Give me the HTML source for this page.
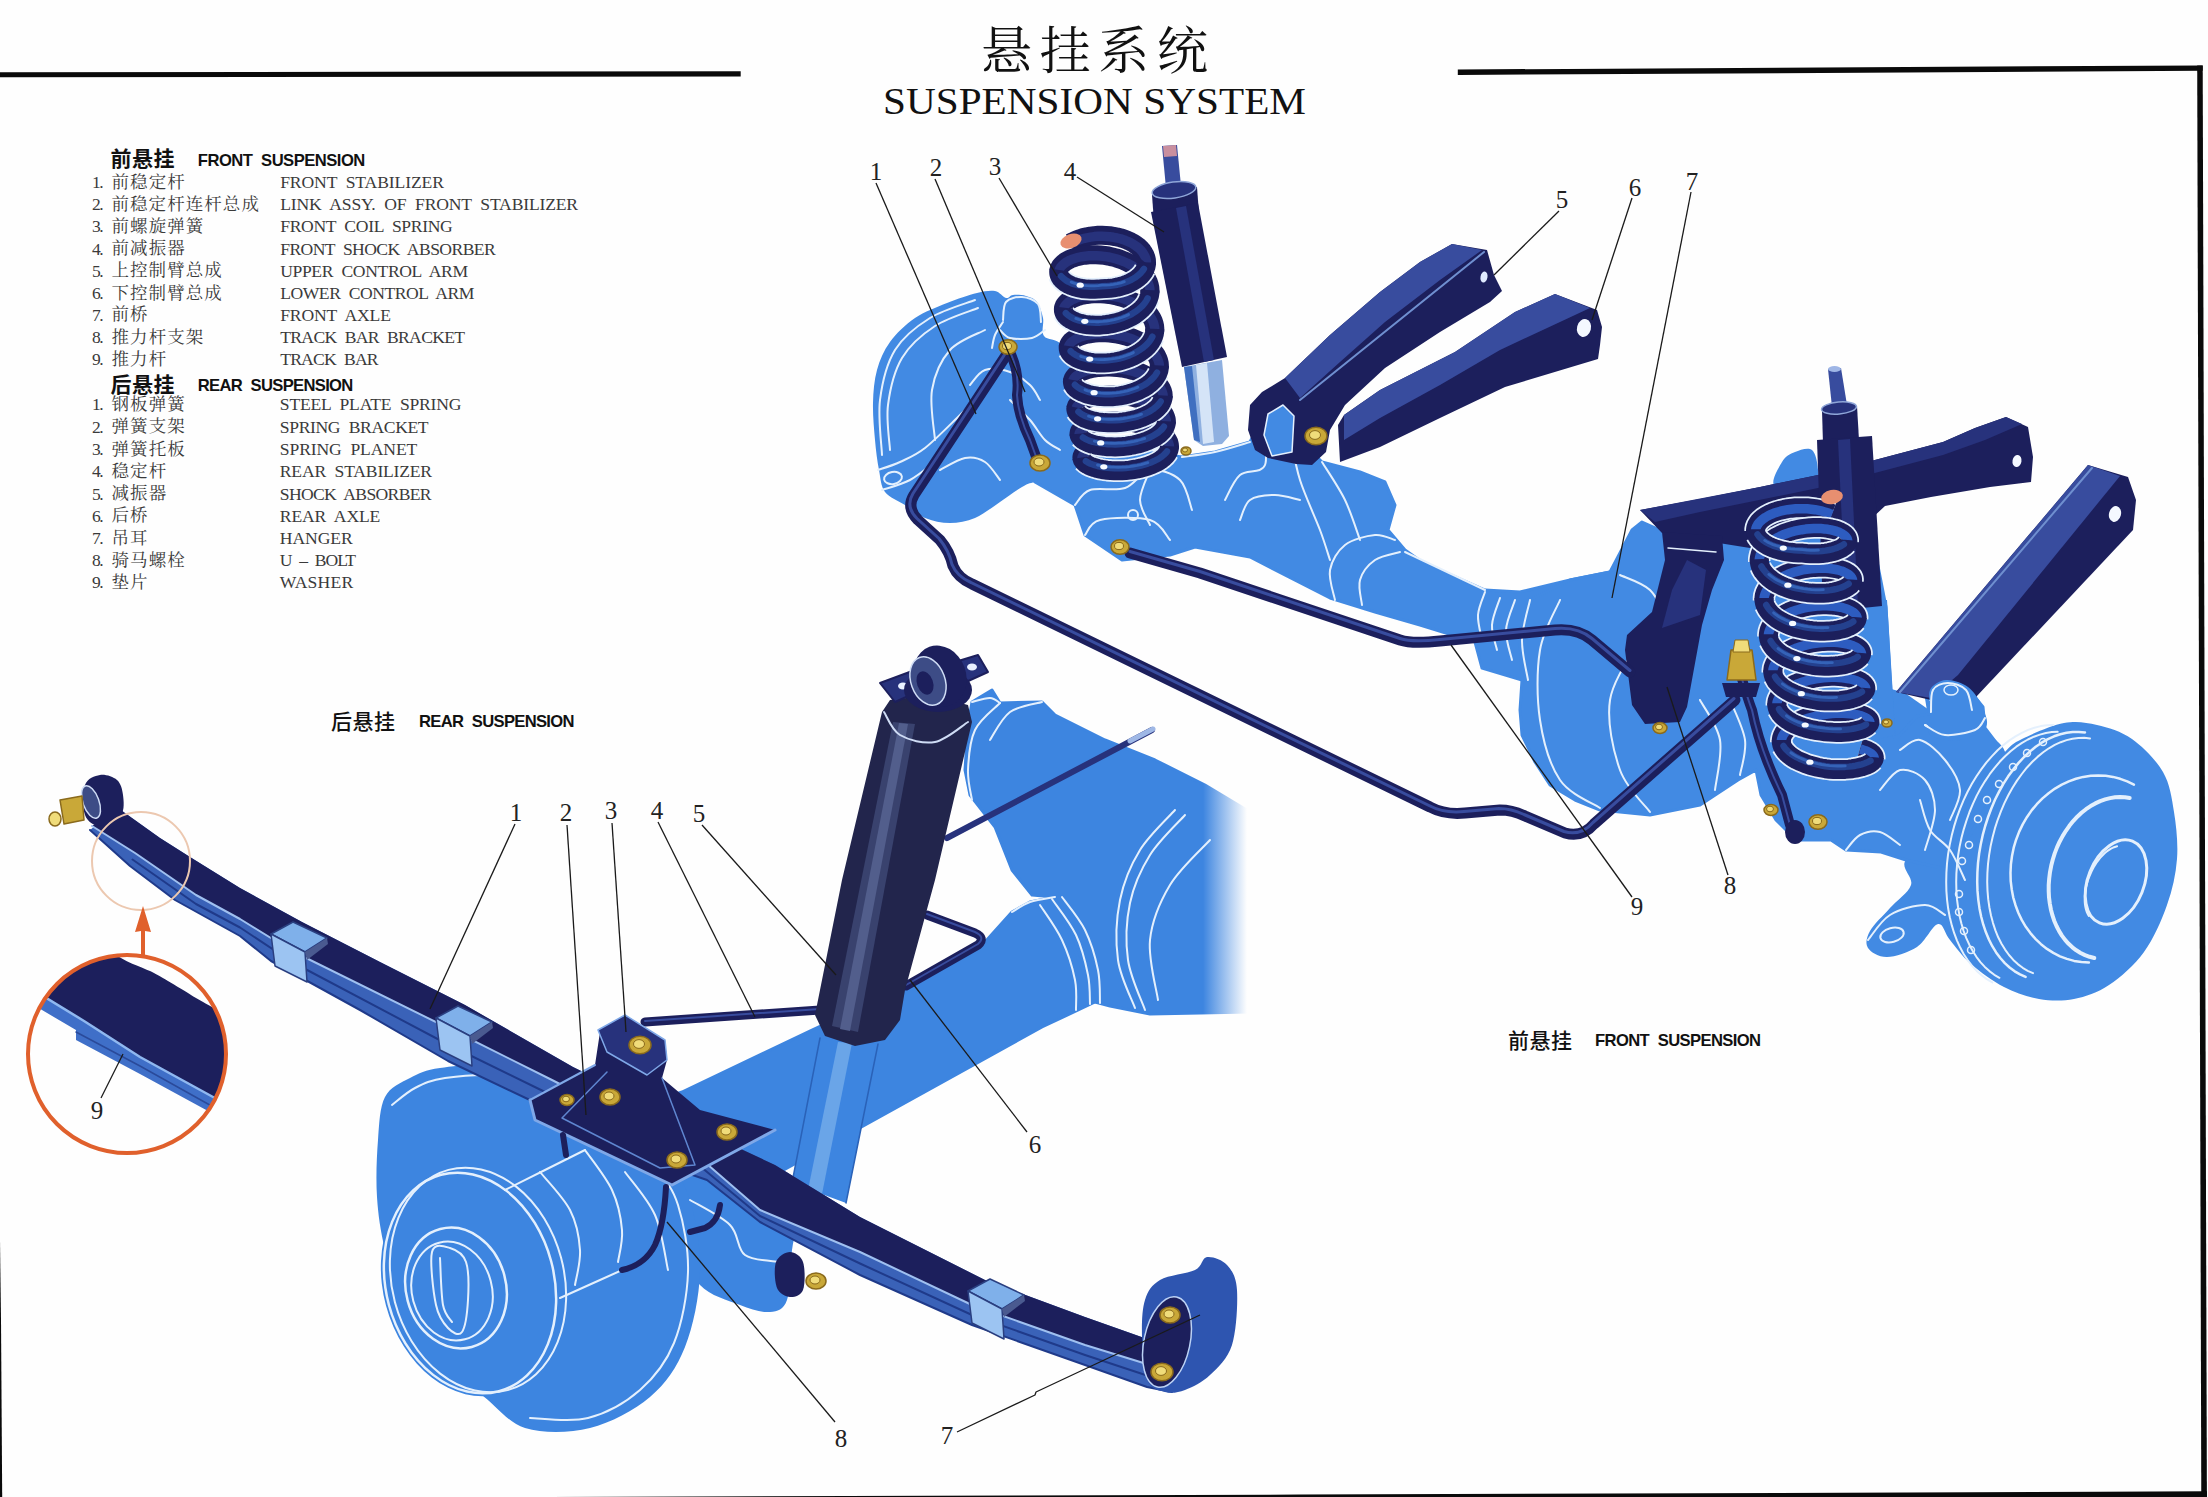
<!DOCTYPE html>
<html lang="zh"><head><meta charset="utf-8"><title>悬挂系统 SUSPENSION SYSTEM</title>
<style>
html,body{margin:0;padding:0;background:#fff}
body{width:2208px;height:1497px;overflow:hidden;position:relative}
svg{position:absolute;left:0;top:0;display:block}
text{white-space:pre}
</style></head><body>
<svg width="2208" height="1497" viewBox="0 0 2208 1497">
<rect width="2208" height="1497" fill="#fefefe"/>
<defs><linearGradient id="fadeR" x1="0" x2="1" y1="0" y2="0"><stop offset="0" stop-color="#fefefe" stop-opacity="0"/><stop offset="0.8" stop-color="#fefefe" stop-opacity="1"/><stop offset="1" stop-color="#fefefe" stop-opacity="1"/></linearGradient><clipPath id="detc"><circle cx="127" cy="1054" r="99"/></clipPath></defs>
<polygon points="972,702 992,690 1000,703 1042,702 1055,715 1105,740 1155,760 1205,785 1250,812 1250,1012 1150,1014 1110,1006 1095,1002 1060,1000 1055,897 1032,895 1012,870 995,827 970,795 965,770 968,725" fill="#3d85e0" stroke="#3d85e0" stroke-width="3" stroke-linejoin="round"/>
<polygon points="660,1100 682,1092 812,1030 910,985 985,942 1012,912 1030,902 1055,897 1075,950 1095,1002 1042,1027 865,1125 780,1172 700,1205 660,1180" fill="#3d85e0" stroke="#3d85e0" stroke-width="3" stroke-linejoin="round"/>
<path d="M675,1185C678.3,1174.2 682.5,1177.2 700,1175C717.5,1172.8 763.3,1167.8 780,1172C796.7,1176.2 798,1187 800,1200C802,1213 794.2,1233.3 792,1250C789.8,1266.7 790.7,1289.7 787,1300C783.3,1310.3 777.8,1311.2 770,1312C762.2,1312.8 751.7,1309.5 740,1305C728.3,1300.5 710,1295.8 700,1285C690,1274.2 684.2,1256.7 680,1240C675.8,1223.3 671.7,1195.8 675,1185Z" fill="#3d85e0"/>
<path d="M385,1097C390.3,1086.7 400.8,1082.8 410,1078C419.2,1073.2 425,1070 440,1068C455,1066 480,1063.2 500,1066C520,1068.8 540,1076 560,1085C580,1094 602.5,1107.5 620,1120C637.5,1132.5 653.3,1146.7 665,1160C676.7,1173.3 684.2,1181.3 690,1200C695.8,1218.7 700.8,1247.5 700,1272C699.2,1296.5 693.3,1326.2 685,1347C676.7,1367.8 665.8,1383.5 650,1397C634.2,1410.5 610.8,1422.8 590,1428C569.2,1433.2 543.3,1433.7 525,1428C506.7,1422.3 494.2,1402.8 480,1394C465.8,1385.2 452.5,1387.3 440,1375C427.5,1362.7 414.2,1340.8 405,1320C395.8,1299.2 389.7,1270.5 385,1250C380.3,1229.5 378.2,1215.3 377,1197C375.8,1178.7 376.7,1156.7 378,1140C379.3,1123.3 379.7,1107.3 385,1097Z" fill="#3d85e0"/>
<ellipse cx="470" cy="1283" rx="87" ry="115" fill="#3d85e0" transform="rotate(-15 470 1283)"/>
<rect x="1203" y="770" width="55" height="250" fill="url(#fadeR)"/>
<polygon points="820,1038 878,1044 846,1203 792,1183" fill="#3d85e0"/>
<polygon points="838,1042 852,1043 822,1194 808,1190" fill="#6aa5e8"/>
<polyline points="820,1038 792,1183" fill="none" stroke="#2a62b8" stroke-width="1.5" stroke-linecap="round" stroke-linejoin="round"/>
<polyline points="878,1044 846,1203" fill="none" stroke="#2a62b8" stroke-width="1.5" stroke-linecap="round" stroke-linejoin="round"/>
<path d="M392,1105C395.8,1102.2 406.2,1092.5 415,1088C423.8,1083.5 430.8,1080 445,1078C459.2,1076 481.7,1073.3 500,1076C518.3,1078.7 536.3,1085.3 555,1094C573.7,1102.7 595.3,1115.7 612,1128C628.7,1140.3 644,1155.2 655,1168C666,1180.8 672.5,1187.7 678,1205C683.5,1222.3 688.7,1249 688,1272C687.3,1295 682,1323.3 674,1343C666,1362.7 654.3,1377.5 640,1390C625.7,1402.5 606.3,1413.3 588,1418C569.7,1422.7 539.7,1418 530,1418" fill="none" stroke="#e4f0fd" stroke-width="2" stroke-linecap="round" stroke-linejoin="round"/>
<ellipse cx="470" cy="1283" rx="84" ry="112" fill="none" stroke="#e4f0fd" stroke-width="2.5" transform="rotate(-15 470 1283)"/>
<ellipse cx="478" cy="1280" rx="86" ry="114" fill="none" stroke="#e4f0fd" stroke-width="2" transform="rotate(-15 478 1280)"/>
<ellipse cx="456" cy="1288" rx="50" ry="61" fill="none" stroke="#e4f0fd" stroke-width="2.5" transform="rotate(-15 456 1288)"/>
<ellipse cx="452" cy="1291" rx="40" ry="50" fill="none" stroke="#e4f0fd" stroke-width="2" transform="rotate(-15 452 1291)"/>
<path d="M432,1252C429.7,1261.5 433.3,1292.3 436,1305C438.7,1317.7 443.7,1323.5 448,1328C452.3,1332.5 458.7,1336.7 462,1332C465.3,1327.3 467.3,1311.7 468,1300C468.7,1288.3 469,1270.7 466,1262C463,1253.3 455.7,1249.7 450,1248C444.3,1246.3 434.3,1242.5 432,1252Z" fill="none" stroke="#e4f0fd" stroke-width="2" stroke-linecap="round" stroke-linejoin="round"/>
<path d="M440,1258C440.5,1265.8 441,1294.3 443,1305C445,1315.7 450.5,1319.2 452,1322" fill="none" stroke="#e4f0fd" stroke-width="2" stroke-linecap="round" stroke-linejoin="round"/>
<path d="M505,1190C518.3,1183.3 571.7,1156.7 585,1150" fill="none" stroke="#e4f0fd" stroke-width="2" stroke-linecap="round" stroke-linejoin="round"/>
<path d="M560,1298C573.3,1292 626.7,1268 640,1262" fill="none" stroke="#e4f0fd" stroke-width="2" stroke-linecap="round" stroke-linejoin="round"/>
<path d="M585,1150C589.5,1156.7 605.8,1176.7 612,1190C618.2,1203.3 621,1218 622,1230C623,1242 618.7,1256.7 618,1262" fill="none" stroke="#e4f0fd" stroke-width="2" stroke-linecap="round" stroke-linejoin="round"/>
<path d="M540,1172C545,1178.3 563.3,1197 570,1210C576.7,1223 579.2,1237.5 580,1250C580.8,1262.5 575.8,1279.2 575,1285" fill="none" stroke="#e4f0fd" stroke-width="2" stroke-linecap="round" stroke-linejoin="round"/>
<path d="M625,1172C630,1179.2 647.8,1198.7 655,1215C662.2,1231.3 665.8,1260.8 668,1270" fill="none" stroke="#e4f0fd" stroke-width="2" stroke-linecap="round" stroke-linejoin="round"/>
<path d="M1062,897C1065.8,902.5 1079,917.8 1085,930C1091,942.2 1095.5,957.8 1098,970C1100.5,982.2 1099.7,997.5 1100,1003" fill="none" stroke="#e4f0fd" stroke-width="2" stroke-linecap="round" stroke-linejoin="round"/>
<path d="M1052,899C1056,905 1070,922.3 1076,935C1082,947.7 1085.7,963.5 1088,975C1090.3,986.5 1089.7,999.2 1090,1004" fill="none" stroke="#e4f0fd" stroke-width="2" stroke-linecap="round" stroke-linejoin="round"/>
<path d="M1040,905C1043.7,910.8 1056.2,927.5 1062,940C1067.8,952.5 1072.7,968.3 1075,980C1077.3,991.7 1075.8,1005 1076,1010" fill="none" stroke="#e4f0fd" stroke-width="2" stroke-linecap="round" stroke-linejoin="round"/>
<path d="M1012,912C1015,910.3 1022.8,904.5 1030,902C1037.2,899.5 1050.8,897.8 1055,897" fill="none" stroke="#e4f0fd" stroke-width="2" stroke-linecap="round" stroke-linejoin="round"/>
<path d="M1175,810C1169.2,816.7 1149.2,835 1140,850C1130.8,865 1123.7,881.7 1120,900C1116.3,918.3 1115.5,942 1118,960C1120.5,978 1132.2,1000 1135,1008" fill="none" stroke="#e4f0fd" stroke-width="2" stroke-linecap="round" stroke-linejoin="round"/>
<path d="M1185,815C1179.2,821.7 1159.2,840.3 1150,855C1140.8,869.7 1133.7,885.5 1130,903C1126.3,920.5 1125.5,942.2 1128,960C1130.5,977.8 1142.2,1001.7 1145,1010" fill="none" stroke="#e4f0fd" stroke-width="2" stroke-linecap="round" stroke-linejoin="round"/>
<path d="M1210,840C1203.3,847.5 1180,868.3 1170,885C1160,901.7 1152,920.8 1150,940C1148,959.2 1156.7,990 1158,1000" fill="none" stroke="#e4f0fd" stroke-width="2" stroke-linecap="round" stroke-linejoin="round"/>
<path d="M1000,703C995.8,707.5 980.3,718.8 975,730C969.7,741.2 968.5,758.3 968,770C967.5,781.7 971.3,795 972,800" fill="none" stroke="#e4f0fd" stroke-width="2" stroke-linecap="round" stroke-linejoin="round"/>
<path d="M1042,702C1036.7,703.7 1018.7,705.7 1010,712C1001.3,718.3 993.3,735.3 990,740" fill="none" stroke="#e4f0fd" stroke-width="2" stroke-linecap="round" stroke-linejoin="round"/>
<path d="M972,702C975,701.3 985.3,697.8 990,698C994.7,698.2 998.3,702.2 1000,703" fill="none" stroke="#e4f0fd" stroke-width="2" stroke-linecap="round" stroke-linejoin="round"/>
<path d="M690,1200C696.7,1204.2 720.8,1215.8 730,1225C739.2,1234.2 736.7,1248.8 745,1255C753.3,1261.2 774.2,1260.8 780,1262" fill="none" stroke="#e4f0fd" stroke-width="2" stroke-linecap="round" stroke-linejoin="round"/>
<polyline points="947,838 1152,730" fill="none" stroke="#27327c" stroke-width="6" stroke-linecap="round" stroke-linejoin="round"/>
<polyline points="1130,741 1153,729" fill="none" stroke="#9fb8e6" stroke-width="5" stroke-linecap="round" stroke-linejoin="round"/>
<polyline points="645,1022 820,1010" fill="none" stroke="#1c1f5c" stroke-width="9" stroke-linecap="round" stroke-linejoin="round"/>
<polyline points="645,1021 820,1009" fill="none" stroke="#384c9e" stroke-width="2" stroke-linecap="round" stroke-linejoin="round"/>
<path d="M927,915 L975,933 Q986,938 978,945 L906,986" fill="none" stroke="#1c1f5c" stroke-width="9" stroke-linecap="round" stroke-linejoin="round"/>
<path d="M927,914 L975,932 Q986,937 978,944 L906,985" fill="none" stroke="#384c9e" stroke-width="2" stroke-linecap="round" stroke-linejoin="round"/>
<polygon points="882,712 890,700 930,695 968,705 972,722 935,880 905,990 900,1020 885,1040 855,1046 825,1036 815,1015 842,880" fill="#22254c"/>
<polygon points="893,722 915,724 858,1032 832,1026" fill="#39426e"/>
<polygon points="899,723 908,724 850,1031 840,1029" fill="#525e8c"/>
<path d="M884,712C886.7,715.8 891.5,730 900,735C908.5,740 923.7,744.2 935,742C946.3,739.8 962.5,725.3 968,722" fill="none" stroke="#cfdcf5" stroke-width="2" stroke-linecap="round" stroke-linejoin="round"/>
<polygon points="880,683 915,670 922,690 895,702" fill="#27327c" stroke="#1c1f5c" stroke-width="2" stroke-linejoin="round"/>
<polygon points="955,662 978,655 988,672 966,682" fill="#27327c" stroke="#1c1f5c" stroke-width="2" stroke-linejoin="round"/>
<ellipse cx="972" cy="667" rx="5" ry="3.5" fill="#e8f0ff"/>
<ellipse cx="903" cy="686" rx="5" ry="3.5" fill="#e8f0ff"/>
<ellipse cx="938" cy="690" rx="34" ry="22" fill="#1c1f5c"/>
<ellipse cx="940" cy="676" rx="26" ry="31" fill="#1c1f5c" transform="rotate(-20 940 676)"/>
<ellipse cx="928" cy="681" rx="17" ry="25" fill="#3d4c86" stroke="#cfdcf5" stroke-width="1.5" transform="rotate(-20 928 681)"/>
<ellipse cx="925" cy="683" rx="8" ry="12" fill="#1c1f5c" transform="rotate(-20 925 683)"/>
<polygon points="118,808 160,838 190,857 240,888 302,922 380,962 465,1005 573,1067 640,1100 700,1130 775,1165 860,1217 985,1280 1085,1317 1150,1340 1172,1392 1147,1387 1085,1365 972,1325 860,1275 760,1222 707,1180 620,1150 532,1101 448,1061 360,1010 271,961 240,936 175,900 130,866 90,830" fill="#3a62b8"/>
<polygon points="118,808 160,838 190,857 240,888 302,922 380,962 465,1005 573,1067 640,1100 700,1130 775,1165 860,1217 985,1280 1085,1317 1150,1340 1150,1365 1085,1345 972,1305 860,1252 760,1210 700,1158 640,1125 552,1080 448,1028 292,951 240,919 196,895 135,853 92,826" fill="#1c1f5c"/>
<polyline points="92,826 135,853 196,895 240,919 292,951 448,1028 552,1080 640,1125 700,1158 760,1210 860,1252 972,1305 1085,1345 1150,1365" fill="none" stroke="#9fc0f0" stroke-width="2" stroke-linecap="round" stroke-linejoin="round"/>
<polyline points="132.5,859.5 196,904 240,927.5 292,962 448,1044.5 542,1090.5 630,1137.5 703.5,1169 760,1216 860,1263.5 972,1315 1085,1355 1148.5,1376" fill="none" stroke="#1f3a8a" stroke-width="2" stroke-linecap="round" stroke-linejoin="round"/>
<polyline points="90,830 130,866 175,900 240,936 271,961 360,1010 448,1061 532,1101 620,1150 707,1180 760,1222 860,1275 972,1325 1085,1365 1147,1387 1172,1392" fill="none" stroke="#1f3a8a" stroke-width="2" stroke-linecap="round" stroke-linejoin="round"/>
<polygon points="271,934 293,922 327,938 305,952" fill="#7fb0ea" stroke="#2a3f80" stroke-width="1.5" stroke-linejoin="round"/>
<polygon points="271,934 305,952 307,982 275,966" fill="#9cc4f2" stroke="#2a3f80" stroke-width="1.5" stroke-linejoin="round"/>
<polygon points="305,952 327,938 328,944 307,960" fill="#4a5a90"/>
<polygon points="436,1018 458,1006 492,1022 470,1036" fill="#7fb0ea" stroke="#2a3f80" stroke-width="1.5" stroke-linejoin="round"/>
<polygon points="436,1018 470,1036 472,1066 440,1050" fill="#9cc4f2" stroke="#2a3f80" stroke-width="1.5" stroke-linejoin="round"/>
<polygon points="470,1036 492,1022 493,1028 472,1044" fill="#4a5a90"/>
<polygon points="968,1291 990,1279 1024,1295 1002,1309" fill="#7fb0ea" stroke="#2a3f80" stroke-width="1.5" stroke-linejoin="round"/>
<polygon points="968,1291 1002,1309 1004,1339 972,1323" fill="#9cc4f2" stroke="#2a3f80" stroke-width="1.5" stroke-linejoin="round"/>
<polygon points="1002,1309 1024,1295 1025,1301 1004,1317" fill="#4a5a90"/>
<path d="M85,785C87.5,778.3 94.7,775.8 100,775C105.3,774.2 113.2,776.7 117,780C120.8,783.3 122.3,789.2 123,795C123.7,800.8 124.8,809.8 121,815C117.2,820.2 106,826 100,826C94,826 87.5,821.8 85,815C82.5,808.2 82.5,791.7 85,785Z" fill="#1c1f5c"/>
<ellipse cx="91" cy="802" rx="8" ry="17" fill="#3d4c86" stroke="#cfdcf5" stroke-width="1.5" transform="rotate(-20 91 802)"/>
<polygon points="60,800 82,796 84,820 64,824" fill="#c9a838" stroke="#8a6a1c" stroke-width="1.5" stroke-linejoin="round"/>
<ellipse cx="55" cy="819" rx="6" ry="7" fill="#f0dc7a" stroke="#8a6a1c" stroke-width="1.5"/>
<path d="M1145,1300C1148,1290.5 1151.7,1285 1160,1280C1168.3,1275 1187.2,1273.8 1195,1270C1202.8,1266.2 1201.7,1257.8 1207,1257C1212.3,1256.2 1222,1259.5 1227,1265C1232,1270.5 1236.2,1276.7 1237,1290C1237.8,1303.3 1236.5,1330.8 1232,1345C1227.5,1359.2 1217.8,1367.5 1210,1375C1202.2,1382.5 1192.5,1387.2 1185,1390C1177.5,1392.8 1171.3,1393.7 1165,1392C1158.7,1390.3 1150.8,1389.2 1147,1380C1143.2,1370.8 1142.3,1350.3 1142,1337C1141.7,1323.7 1142,1309.5 1145,1300Z" fill="#2e55b0"/>
<ellipse cx="1167" cy="1342" rx="23" ry="46" fill="#1c1f5c" stroke="#bcd2f5" stroke-width="1.5" transform="rotate(12 1167 1342)"/>
<ellipse cx="1170" cy="1315" rx="10" ry="8" fill="#c9a838" stroke="#8a6a1c" stroke-width="1.5"/><ellipse cx="1169" cy="1314" rx="5" ry="4" fill="#f0dc7a" stroke="#8a6a1c" stroke-width="1"/>
<ellipse cx="1162" cy="1372" rx="11" ry="8.8" fill="#c9a838" stroke="#8a6a1c" stroke-width="1.5"/><ellipse cx="1161" cy="1371" rx="5.5" ry="4.4" fill="#f0dc7a" stroke="#8a6a1c" stroke-width="1"/>
<polygon points="530,1100 595,1065 600,1032 625,1015 665,1040 667,1060 662,1078 700,1110 775,1130 672,1185 535,1120" fill="#1c1f5c"/>
<polyline points="530,1100 535,1120 672,1185 775,1130" fill="none" stroke="#7fa8e8" stroke-width="3" stroke-linecap="round" stroke-linejoin="round"/>
<polyline points="530,1100 595,1065" fill="none" stroke="#7fa8e8" stroke-width="2" stroke-linecap="round" stroke-linejoin="round"/>
<polyline points="607,1072 562,1118 660,1168 695,1165 662,1078" fill="none" stroke="#5f86d0" stroke-width="1.5" stroke-linecap="round" stroke-linejoin="round"/>
<polygon points="598,1030 625,1015 665,1040 667,1060 647,1075 607,1052" fill="#27327c" stroke="#7fa8e8" stroke-width="1.5" stroke-linejoin="round"/>
<path d="M666,1187 Q664,1225 655,1245 Q645,1265 622,1270" fill="none" stroke="#1c1f5c" stroke-width="6" stroke-linecap="round" stroke-linejoin="round"/>
<path d="M720,1205 Q718,1222 705,1228 L690,1232" fill="none" stroke="#1c1f5c" stroke-width="6" stroke-linecap="round" stroke-linejoin="round"/>
<polyline points="563,1135 566,1155" fill="none" stroke="#1c1f5c" stroke-width="6" stroke-linecap="round" stroke-linejoin="round"/>
<path d="M776,1262C778.2,1256 785.5,1252 790,1252C794.5,1252 800.8,1255.7 803,1262C805.2,1268.3 805.2,1284.2 803,1290C800.8,1295.8 794.3,1297.3 790,1297C785.7,1296.7 779.3,1293.8 777,1288C774.7,1282.2 773.8,1268 776,1262Z" fill="#1c1f5c"/>
<ellipse cx="640" cy="1045" rx="11" ry="8.8" fill="#c9a838" stroke="#8a6a1c" stroke-width="1.5"/><ellipse cx="639" cy="1044" rx="5.5" ry="4.4" fill="#f0dc7a" stroke="#8a6a1c" stroke-width="1"/>
<ellipse cx="610" cy="1097" rx="10" ry="8" fill="#c9a838" stroke="#8a6a1c" stroke-width="1.5"/><ellipse cx="609" cy="1096" rx="5" ry="4" fill="#f0dc7a" stroke="#8a6a1c" stroke-width="1"/>
<ellipse cx="567" cy="1100" rx="7" ry="5.6" fill="#c9a838" stroke="#8a6a1c" stroke-width="1.5"/><ellipse cx="566" cy="1099" rx="3.5" ry="2.8" fill="#f0dc7a" stroke="#8a6a1c" stroke-width="1"/>
<ellipse cx="727" cy="1132" rx="10" ry="8" fill="#c9a838" stroke="#8a6a1c" stroke-width="1.5"/><ellipse cx="726" cy="1131" rx="5" ry="4" fill="#f0dc7a" stroke="#8a6a1c" stroke-width="1"/>
<ellipse cx="677" cy="1160" rx="10" ry="8" fill="#c9a838" stroke="#8a6a1c" stroke-width="1.5"/><ellipse cx="676" cy="1159" rx="5" ry="4" fill="#f0dc7a" stroke="#8a6a1c" stroke-width="1"/>
<ellipse cx="816" cy="1281" rx="10" ry="8" fill="#c9a838" stroke="#8a6a1c" stroke-width="1.5"/><ellipse cx="815" cy="1280" rx="5" ry="4" fill="#f0dc7a" stroke="#8a6a1c" stroke-width="1"/>
<circle cx="127" cy="1054" r="99" fill="#fefefe"/>
<g clip-path="url(#detc)">
<path d="M10,880C20.6,878 101.6,945.7 116,955C130.4,964.3 146,968.7 154,973C162,977.3 185.4,991.3 196,998C206.6,1004.7 253.6,1027.3 260,1040C266.4,1052.7 264.7,1119.3 260,1125C255.3,1130.7 225,1103.8 213,1097C201,1090.2 152.9,1064.6 140,1057C127.1,1049.4 97,1029.2 84,1021C71,1012.8 17.4,989.1 10,975C2.6,960.9 -0.6,882 10,880Z" fill="#1c1f5c"/>
<polygon points="30,988 84,1021 140,1057 213,1097 240,1112 238,1130 208,1111 140,1074 76,1040 76,1030 30,1003" fill="#3f6fc8"/>
<polyline points="30,988 84,1021 140,1057 213,1097 240,1112" fill="none" stroke="#8fb8f0" stroke-width="2.5" stroke-linecap="round" stroke-linejoin="round"/>
<polyline points="76,1032 140,1066 208,1104 238,1121" fill="none" stroke="#2a4a9a" stroke-width="1.5" stroke-linecap="round" stroke-linejoin="round"/>
</g>
<circle cx="127" cy="1054" r="99" fill="none" stroke="#e0602c" stroke-width="4"/>
<circle cx="141" cy="861" r="49" fill="none" stroke="#ecc8b0" stroke-width="2"/>
<polygon points="141,957 145,957 145,931 151,932 143,906 135,932 141,931" fill="#e0602c"/>
<polyline points="515,824 430,1009" fill="none" stroke="#1a1a1a" stroke-width="1.3" stroke-linecap="butt" stroke-linejoin="round"/>
<polyline points="567,825 586,1115" fill="none" stroke="#1a1a1a" stroke-width="1.3" stroke-linecap="butt" stroke-linejoin="round"/>
<polyline points="612,823 626,1032" fill="none" stroke="#1a1a1a" stroke-width="1.3" stroke-linecap="butt" stroke-linejoin="round"/>
<polyline points="658,822 755,1017" fill="none" stroke="#1a1a1a" stroke-width="1.3" stroke-linecap="butt" stroke-linejoin="round"/>
<polyline points="702,825 836,975" fill="none" stroke="#1a1a1a" stroke-width="1.3" stroke-linecap="butt" stroke-linejoin="round"/>
<polyline points="1027,1132 910,980" fill="none" stroke="#1a1a1a" stroke-width="1.3" stroke-linecap="butt" stroke-linejoin="round"/>
<polyline points="957,1432 1035,1395 1036,1392 1200,1315" fill="none" stroke="#1a1a1a" stroke-width="1.3" stroke-linecap="butt" stroke-linejoin="round"/>
<polyline points="835,1422 667,1222" fill="none" stroke="#1a1a1a" stroke-width="1.3" stroke-linecap="butt" stroke-linejoin="round"/>
<polyline points="101,1098 123,1054" fill="none" stroke="#1a1a1a" stroke-width="1.3" stroke-linecap="butt" stroke-linejoin="round"/>
<text x="516" y="821" font-size="25" font-family='"Liberation Serif",serif' fill="#222" text-anchor="middle">1</text>
<text x="566" y="821" font-size="25" font-family='"Liberation Serif",serif' fill="#222" text-anchor="middle">2</text>
<text x="611" y="819" font-size="25" font-family='"Liberation Serif",serif' fill="#222" text-anchor="middle">3</text>
<text x="657" y="819" font-size="25" font-family='"Liberation Serif",serif' fill="#222" text-anchor="middle">4</text>
<text x="699" y="822" font-size="25" font-family='"Liberation Serif",serif' fill="#222" text-anchor="middle">5</text>
<text x="1035" y="1153" font-size="25" font-family='"Liberation Serif",serif' fill="#222" text-anchor="middle">6</text>
<text x="947" y="1444" font-size="25" font-family='"Liberation Serif",serif' fill="#222" text-anchor="middle">7</text>
<text x="841" y="1447" font-size="25" font-family='"Liberation Serif",serif' fill="#222" text-anchor="middle">8</text>
<text x="97" y="1119" font-size="25" font-family='"Liberation Serif",serif' fill="#222" text-anchor="middle">9</text>
<path d="M873,403C873.3,391.3 874.2,380.2 877,370C879.8,359.8 883.7,350.7 890,342C896.3,333.3 905.5,324.5 915,318C924.5,311.5 936.7,307.2 947,303C957.3,298.8 969,295 977,293C985,291 990.2,290.2 995,291C999.8,291.8 1003,297.3 1006,298C1009,298.7 1009.7,295.3 1013,295C1016.3,294.7 1022,294.8 1026,296C1030,297.2 1034.2,298.3 1037,302C1039.8,305.7 1041.8,312.3 1043,318C1044.2,323.7 1040.8,331.5 1044,336C1047.2,340.5 1056,337.7 1062,345C1068,352.3 1075.3,364.2 1080,380C1084.7,395.8 1088.3,424.2 1090,440C1091.7,455.8 1095,468.7 1090,475C1085,481.3 1069.2,476.8 1060,478C1050.8,479.2 1041.3,480.5 1035,482C1028.7,483.5 1027.8,483.7 1022,487C1016.2,490.3 1007.8,496.8 1000,502C992.2,507.2 983.3,514.5 975,518C966.7,521.5 958.3,523 950,523C941.7,523 932.5,521 925,518C917.5,515 911.7,509.3 905,505C898.3,500.7 889.3,497.8 885,492C880.7,486.2 880.7,478.7 879,470C877.3,461.3 876,451.2 875,440C874,428.8 872.7,414.7 873,403Z" fill="#428ae3"/>
<polygon points="1035,482 1060,440 1182,457 1215,452 1250,442 1262,418 1272,408 1285,407 1292,432 1322,462 1360,472 1385,482 1395,505 1388,530 1405,550 1422,562 1485,590 1520,592 1570,580 1610,572 1640,600 1560,690 1522,680 1482,668 1475,642 1420,625 1375,612 1330,598 1250,557 1195,547 1170,555 1122,560 1085,535 1075,505" fill="#428ae3" stroke="#428ae3" stroke-width="3" stroke-linejoin="round"/>
<path d="M1906,860C1899.5,867.5 1913.7,877 1911,885C1908.3,893 1896.8,900.3 1890,908C1883.2,915.7 1873.7,924.3 1870,931C1866.3,937.7 1865.2,943.7 1868,948C1870.8,952.3 1878.8,957.2 1887,957C1895.2,956.8 1908.5,952.5 1917,947C1925.5,941.5 1932.5,925.2 1938,924C1943.5,922.8 1944.5,933.3 1950,940C1955.5,946.7 1962,956.2 1971,964C1980,971.8 1992.7,981.2 2004,987C2015.3,992.8 2027.3,997 2039,999C2050.7,1001 2062.3,1001.3 2074,999C2085.7,996.7 2097.3,992.8 2109,985C2120.7,977.2 2134.3,965.3 2144,952C2153.7,938.7 2161.5,920.5 2167,905C2172.5,889.5 2175.8,874.5 2177,859C2178.2,843.5 2176.3,826.5 2174,812C2171.7,797.5 2170,784.2 2163,772C2156,759.8 2143,746.8 2132,739C2121,731.2 2108.3,727.7 2097,725C2085.7,722.3 2076.5,720.7 2064,723C2051.5,725.3 2032,734 2022,739C2012,744 2011.8,744.5 2004,753C1996.2,761.5 1984,775.5 1975,790C1966,804.5 1961.5,828.3 1950,840C1938.5,851.7 1912.5,852.5 1906,860Z" fill="#428ae3"/>
<polygon points="1888,688 1905,693 1932,712 1905,742 1890,742" fill="#428ae3"/>
<path d="M1929,714C1930.5,708.2 1923.7,700.5 1926,695C1928.3,689.5 1936.3,682.5 1943,681C1949.7,679.5 1959.3,681.7 1966,686C1972.7,690.3 1979.8,700 1983,707C1986.2,714 1981.5,720.3 1985,728C1988.5,735.7 2008.2,747.7 2004,753C1999.8,758.3 1974.5,763.8 1960,760C1945.5,756.2 1922.2,737.7 1917,730C1911.8,722.3 1927.5,719.8 1929,714Z" fill="#428ae3"/>
<polygon points="1522,680 1520,710 1522,735 1535,762 1550,785 1575,800 1600,810 1650,815 1700,805 1738,780 1756,770 1761,795 1776,820 1796,840 1831,840 1846,850 1881,852 1906,860 1950,870 1990,800 2004,753 1985,728 1983,707 1966,686 1943,681 1926,695 1929,714 1917,716 1898,737 1894,737 1886,607 1870,525 1752,538 1700,534 1660,530 1642,522 1632,530 1610,572 1570,580 1530,600 1520,640" fill="#428ae3" stroke="#428ae3" stroke-width="3" stroke-linejoin="round"/>
<polygon points="1862,600 1887,600 1895,735 1876,740" fill="#428ae3"/>
<path d="M1775,487C1769.5,482 1778.7,467.8 1782,462C1785.3,456.2 1790,454 1795,452C1800,450 1808.2,447 1812,450C1815.8,453 1817.5,463 1818,470C1818.5,477 1822.2,489.2 1815,492C1807.8,494.8 1780.5,492 1775,487Z" fill="#428ae3"/>
<path d="M882,455C881.7,445.8 877.8,417.5 880,400C882.2,382.5 886.7,363.7 895,350C903.3,336.3 916.7,326.3 930,318C943.3,309.7 967.5,303 975,300" fill="none" stroke="#e4f0fd" stroke-width="2" stroke-linecap="round" stroke-linejoin="round"/>
<path d="M890,450C889.7,442.5 886,420.3 888,405C890,389.7 894.2,371.2 902,358C909.8,344.8 922.3,334.3 935,326C947.7,317.7 970.8,311 978,308" fill="none" stroke="#e4f0fd" stroke-width="2" stroke-linecap="round" stroke-linejoin="round"/>
<path d="M935,440C934.5,431.7 929.5,405 932,390C934.5,375 941.2,360 950,350C958.8,340 979.2,333.3 985,330" fill="none" stroke="#e4f0fd" stroke-width="2" stroke-linecap="round" stroke-linejoin="round"/>
<path d="M878,470C881.7,468.7 892.2,465.7 900,462C907.8,458.3 915,455.8 925,448C935,440.2 949.2,425.5 960,415C970.8,404.5 985,390 990,385" fill="none" stroke="#e4f0fd" stroke-width="2" stroke-linecap="round" stroke-linejoin="round"/>
<path d="M882,490C886.7,488.3 901.2,484.7 910,480C918.8,475.3 930.8,465 935,462" fill="none" stroke="#e4f0fd" stroke-width="2" stroke-linecap="round" stroke-linejoin="round"/>
<ellipse cx="893" cy="478" rx="9" ry="6" fill="none" stroke="#e4f0fd" stroke-width="2" transform="rotate(-10 893 478)"/>
<path d="M1003,320C1003.5,317 1002.8,305.8 1006,302C1009.2,298.2 1016.7,296.7 1022,297C1027.3,297.3 1034.8,299.8 1038,304C1041.2,308.2 1040.5,319 1041,322" fill="none" stroke="#e4f0fd" stroke-width="2" stroke-linecap="round" stroke-linejoin="round"/>
<path d="M1000,330C1001.7,331.3 1004.7,336.7 1010,338C1015.3,339.3 1026.2,339.3 1032,338C1037.8,336.7 1042.8,331.3 1045,330" fill="none" stroke="#e4f0fd" stroke-width="2" stroke-linecap="round" stroke-linejoin="round"/>
<path d="M992,348C992.5,345.8 993.2,339.3 995,335C996.8,330.7 1001.7,324.2 1003,322" fill="none" stroke="#e4f0fd" stroke-width="2" stroke-linecap="round" stroke-linejoin="round"/>
<path d="M970,385C972.5,382.5 978.3,372.2 985,370C991.7,367.8 1002.5,369.5 1010,372C1017.5,374.5 1025,380.3 1030,385C1035,389.7 1038.3,397.5 1040,400" fill="none" stroke="#e4f0fd" stroke-width="2" stroke-linecap="round" stroke-linejoin="round"/>
<path d="M1010,400C1013.3,403.3 1024.2,413.3 1030,420C1035.8,426.7 1040,435 1045,440C1050,445 1057.5,448.3 1060,450" fill="none" stroke="#e4f0fd" stroke-width="2" stroke-linecap="round" stroke-linejoin="round"/>
<path d="M940,470C944.2,468 957.5,459.3 965,458C972.5,456.7 979.2,458.3 985,462C990.8,465.7 997.5,477 1000,480" fill="none" stroke="#e4f0fd" stroke-width="2" stroke-linecap="round" stroke-linejoin="round"/>
<path d="M1075,505C1077.5,502.5 1081.7,492.8 1090,490C1098.3,487.2 1115,491.3 1125,488C1135,484.7 1140.8,471.3 1150,470C1159.2,468.7 1173,473.3 1180,480C1187,486.7 1190,505 1192,510" fill="none" stroke="#e4f0fd" stroke-width="2" stroke-linecap="round" stroke-linejoin="round"/>
<path d="M1085,535C1087.5,532.5 1089.2,522.5 1100,520C1110.8,517.5 1138.3,516.7 1150,520C1161.7,523.3 1166.7,536.7 1170,540" fill="none" stroke="#e4f0fd" stroke-width="2" stroke-linecap="round" stroke-linejoin="round"/>
<path d="M1150,470C1148.3,475 1140,490.8 1140,500C1140,509.2 1148.3,520.8 1150,525" fill="none" stroke="#e4f0fd" stroke-width="2" stroke-linecap="round" stroke-linejoin="round"/>
<ellipse cx="1133" cy="515" rx="5" ry="5" fill="none" stroke="#e4f0fd" stroke-width="2"/>
<path d="M1182,457C1187.5,456.2 1203.7,454.5 1215,452C1226.3,449.5 1244.2,443.7 1250,442" fill="none" stroke="#e4f0fd" stroke-width="2" stroke-linecap="round" stroke-linejoin="round"/>
<path d="M1225,500C1227.5,495.8 1233.3,480.8 1240,475C1246.7,469.2 1261.3,474.2 1265,465C1268.7,455.8 1262.5,427.5 1262,420" fill="none" stroke="#e4f0fd" stroke-width="2" stroke-linecap="round" stroke-linejoin="round"/>
<path d="M1290,435C1291.7,442.5 1295,464.2 1300,480C1305,495.8 1315,516.7 1320,530C1325,543.3 1328.3,555 1330,560" fill="none" stroke="#e4f0fd" stroke-width="2" stroke-linecap="round" stroke-linejoin="round"/>
<path d="M1322,462C1325.8,468.3 1338.7,487 1345,500C1351.3,513 1357.5,533.3 1360,540" fill="none" stroke="#e4f0fd" stroke-width="2" stroke-linecap="round" stroke-linejoin="round"/>
<path d="M1240,520C1241.7,516.7 1244.2,504.2 1250,500C1255.8,495.8 1266.7,495 1275,495C1283.3,495 1295.8,499.2 1300,500" fill="none" stroke="#e4f0fd" stroke-width="2" stroke-linecap="round" stroke-linejoin="round"/>
<path d="M1335,600C1334.2,595 1328.3,579.2 1330,570C1331.7,560.8 1337.5,550.8 1345,545C1352.5,539.2 1366.7,535.8 1375,535C1383.3,534.2 1391.7,539.2 1395,540" fill="none" stroke="#e4f0fd" stroke-width="2" stroke-linecap="round" stroke-linejoin="round"/>
<path d="M1362,605C1361.7,600.8 1357.8,587.5 1360,580C1362.2,572.5 1368.3,564.7 1375,560C1381.7,555.3 1395.8,553.3 1400,552" fill="none" stroke="#e4f0fd" stroke-width="2" stroke-linecap="round" stroke-linejoin="round"/>
<path d="M1405,552C1418.3,558.3 1471.7,583.7 1485,590" fill="none" stroke="#e4f0fd" stroke-width="2" stroke-linecap="round" stroke-linejoin="round"/>
<path d="M1485,592C1483.8,595.8 1478.5,607 1478,615C1477.5,623 1481.3,635.8 1482,640" fill="none" stroke="#e4f0fd" stroke-width="2" stroke-linecap="round" stroke-linejoin="round"/>
<path d="M1500,598C1498.7,602.5 1492.5,616.3 1492,625C1491.5,633.7 1496.2,645.8 1497,650" fill="none" stroke="#e4f0fd" stroke-width="2" stroke-linecap="round" stroke-linejoin="round"/>
<path d="M1515,600C1513.5,605 1506.5,620 1506,630C1505.5,640 1511,655 1512,660" fill="none" stroke="#e4f0fd" stroke-width="2" stroke-linecap="round" stroke-linejoin="round"/>
<path d="M1530,600C1528.7,606.7 1522.3,626.7 1522,640C1521.7,653.3 1527,673.3 1528,680" fill="none" stroke="#e4f0fd" stroke-width="2" stroke-linecap="round" stroke-linejoin="round"/>
<path d="M1560,600C1556.7,608.3 1543.3,630 1540,650C1536.7,670 1536.7,698.3 1540,720C1543.3,741.7 1550,765.3 1560,780C1570,794.7 1593.3,803.3 1600,808" fill="none" stroke="#e4f0fd" stroke-width="2" stroke-linecap="round" stroke-linejoin="round"/>
<path d="M1640,640C1635,650 1613.3,678.3 1610,700C1606.7,721.7 1613.3,751.3 1620,770C1626.7,788.7 1645,805 1650,812" fill="none" stroke="#e4f0fd" stroke-width="2" stroke-linecap="round" stroke-linejoin="round"/>
<path d="M1620,575C1625,577.5 1642,582.5 1650,590C1658,597.5 1665,615 1668,620" fill="none" stroke="#e4f0fd" stroke-width="2" stroke-linecap="round" stroke-linejoin="round"/>
<path d="M1700,700C1703.3,706.7 1717.5,725 1720,740C1722.5,755 1715.8,781.7 1715,790" fill="none" stroke="#e4f0fd" stroke-width="2" stroke-linecap="round" stroke-linejoin="round"/>
<path d="M1730,700C1732.5,706.7 1743.3,727.5 1745,740C1746.7,752.5 1740.8,769.2 1740,775" fill="none" stroke="#e4f0fd" stroke-width="2" stroke-linecap="round" stroke-linejoin="round"/>
<path d="M1931,712C1931.3,708.3 1930.2,694.8 1933,690C1935.8,685.2 1942.5,683 1948,683C1953.5,683 1962,685.5 1966,690C1970,694.5 1971,706.7 1972,710" fill="none" stroke="#e4f0fd" stroke-width="2" stroke-linecap="round" stroke-linejoin="round"/>
<path d="M1925,725C1928.3,726.7 1936.7,734.2 1945,735C1953.3,735.8 1968.3,732.8 1975,730C1981.7,727.2 1983.3,720 1985,718" fill="none" stroke="#e4f0fd" stroke-width="2" stroke-linecap="round" stroke-linejoin="round"/>
<path d="M1930,700C1933.3,701 1943.3,706.3 1950,706C1956.7,705.7 1966.7,699.3 1970,698" fill="none" stroke="#e4f0fd" stroke-width="2" stroke-linecap="round" stroke-linejoin="round"/>
<path d="M1900,750C1903.3,748.3 1912.5,738.3 1920,740C1927.5,741.7 1938.3,751.7 1945,760C1951.7,768.3 1959.2,780 1960,790C1960.8,800 1951.7,815 1950,820" fill="none" stroke="#e4f0fd" stroke-width="2" stroke-linecap="round" stroke-linejoin="round"/>
<path d="M1880,790C1883.3,786.7 1892.5,771.7 1900,770C1907.5,768.3 1919.2,773.3 1925,780C1930.8,786.7 1935,798.3 1935,810C1935,821.7 1926.7,843.3 1925,850" fill="none" stroke="#e4f0fd" stroke-width="2" stroke-linecap="round" stroke-linejoin="round"/>
<path d="M1920,800C1921.7,805 1925,821.7 1930,830C1935,838.3 1944.2,841.7 1950,850C1955.8,858.3 1962.5,875 1965,880" fill="none" stroke="#e4f0fd" stroke-width="2" stroke-linecap="round" stroke-linejoin="round"/>
<path d="M1868,940C1871.7,935.8 1880.5,920.8 1890,915C1899.5,909.2 1915.8,905 1925,905C1934.2,905 1941.7,913.3 1945,915" fill="none" stroke="#e4f0fd" stroke-width="2" stroke-linecap="round" stroke-linejoin="round"/>
<ellipse cx="1892" cy="935" rx="12" ry="7" fill="none" stroke="#e4f0fd" stroke-width="2" transform="rotate(-15 1892 935)"/>
<path d="M1846,850C1848.3,847.5 1854.3,838 1860,835C1865.7,832 1873.3,830.3 1880,832C1886.7,833.7 1896.7,842.8 1900,845" fill="none" stroke="#e4f0fd" stroke-width="2" stroke-linecap="round" stroke-linejoin="round"/>
<polyline points="1992.3,982.4 1986.8,979.2 1981.6,975.3 1976.7,970.9 1972.1,965.8 1967.8,960.3 1963.8,954.2 1960.2,947.6 1957,940.6 1954.2,933.2 1951.8,925.4 1949.8,917.2 1948.2,908.8 1947.1,900.1 1946.4,891.1 1946.2,882 1946.4,872.8 1947,863.5 1948.1,854.2 1949.7,844.9 1951.7,835.6 1954.1,826.4 1956.9,817.4 1960.1,808.6 1963.6,800.1 1967.6,791.8 1971.9,783.8 1976.5,776.3 1981.4,769.1 1986.5,762.3 1992,756.1 1997.6,750.3 2003.4,745.1 2009.4,740.4 2015.5,736.3 2021.8,732.8 2028.1,729.9 2034.4,727.7 2040.8,726.1 2047.1,725.2 2053.4,724.9" fill="none" stroke="#e4f0fd" stroke-width="2" stroke-linecap="round" stroke-linejoin="round"/>
<polyline points="1999.4,977.8 1994.3,974.8 1989.4,971.1 1984.8,966.9 1980.4,962.1 1976.4,956.8 1972.7,951 1969.3,944.7 1966.3,938.1 1963.6,931 1961.4,923.5 1959.5,915.7 1958.1,907.7 1957,899.4 1956.4,890.8 1956.2,882.1 1956.4,873.3 1957.1,864.5 1958.1,855.5 1959.6,846.6 1961.5,837.8 1963.8,829.1 1966.5,820.5 1969.5,812 1972.9,803.9 1976.6,795.9 1980.7,788.3 1985.1,781.1 1989.7,774.2 1994.6,767.8 1999.7,761.8 2005.1,756.2 2010.6,751.2 2016.3,746.7 2022,742.8 2027.9,739.5 2033.9,736.7 2039.9,734.6 2045.9,733 2051.8,732.1 2057.7,731.8" fill="none" stroke="#e4f0fd" stroke-width="2" stroke-linecap="round" stroke-linejoin="round"/>
<polyline points="2025.6,976.9 2020,974.4 2014.7,971.3 2009.6,967.5 2004.8,963.1 2000.3,958 1996.1,952.4 1992.3,946.2 1988.9,939.5 1985.9,932.3 1983.3,924.7 1981.2,916.7 1979.5,908.4 1978.3,899.8 1977.5,890.9 1977.2,881.8 1977.4,872.5 1978,863.2 1979.1,853.8 1980.7,844.5 1982.7,835.2 1985.2,826 1988.1,817 1991.4,808.2 1995,799.7 1999.1,791.6 2003.5,783.7 2008.2,776.3 2013.3,769.4 2018.6,762.9 2024.1,757 2029.8,751.6 2035.7,746.8 2041.7,742.7 2047.9,739.2 2054.1,736.3 2060.3,734.2 2066.6,732.7 2072.8,731.9 2078.9,731.9 2085,732.5" fill="none" stroke="#e4f0fd" stroke-width="2.5" stroke-linecap="round" stroke-linejoin="round"/>
<polyline points="2033,973.1 2027.7,970.8 2022.7,967.8 2017.8,964.1 2013.3,959.9 2009,955 2005.1,949.6 2001.5,943.7 1998.2,937.3 1995.4,930.4 1993,923.1 1991,915.5 1989.4,907.5 1988.2,899.2 1987.5,890.6 1987.2,881.9 1987.4,873.1 1988,864.1 1989.1,855.1 1990.6,846.1 1992.6,837.2 1994.9,828.4 1997.7,819.8 2000.9,811.3 2004.4,803.1 2008.3,795.3 2012.5,787.8 2017,780.6 2021.8,774 2026.8,767.7 2032.1,762 2037.5,756.9 2043.2,752.3 2048.9,748.3 2054.7,744.9 2060.7,742.2 2066.6,740.1 2072.5,738.7 2078.4,737.9 2084.3,737.8 2090,738.4" fill="none" stroke="#e4f0fd" stroke-width="2" stroke-linecap="round" stroke-linejoin="round"/>
<polyline points="2088.9,962.5 2081.4,962.1 2074.1,960.9 2066.9,958.9 2060,956.3 2053.3,952.9 2047,948.9 2041,944.2 2035.4,938.9 2030.4,933.1 2025.8,926.8 2021.7,919.9 2018.3,912.7 2015.5,905.2 2013.2,897.3 2011.7,889.2 2010.7,881 2010.5,872.7 2010.9,864.3 2012,856 2013.7,847.7 2016.1,839.7 2019.1,831.9 2022.7,824.4 2026.9,817.2 2031.6,810.4 2036.8,804.2 2042.5,798.4 2048.6,793.2 2055,788.6 2061.8,784.6 2068.8,781.4 2076,778.8 2083.3,776.9 2090.8,775.8 2098.2,775.4 2105.7,775.8 2113,776.9 2120.2,778.8 2127.2,781.4 2133.9,784.7" fill="none" stroke="#e4f0fd" stroke-width="2.5" stroke-linecap="round" stroke-linejoin="round"/>
<polyline points="2094.3,958 2089.6,956.8 2085,955.1 2080.6,953 2076.3,950.3 2072.4,947.3 2068.6,943.8 2065.1,939.9 2061.9,935.6 2059,930.9 2056.5,926 2054.2,920.7 2052.4,915.2 2050.9,909.4 2049.8,903.5 2049,897.3 2048.7,891.1 2048.7,884.8 2049.2,878.5 2050,872.1 2051.2,865.8 2052.8,859.5 2054.7,853.4 2057,847.4 2059.6,841.7 2062.6,836.1 2065.9,830.8 2069.4,825.8 2073.2,821.1 2077.3,816.7 2081.5,812.8 2086,809.2 2090.6,806.1 2095.3,803.4 2100.2,801.1 2105.1,799.4 2110.1,798.1 2115,797.3 2120,797 2124.9,797.2 2129.7,798" fill="none" stroke="#e4f0fd" stroke-width="4" stroke-linecap="round" stroke-linejoin="round"/>
<ellipse cx="2116" cy="882" rx="28" ry="44" fill="none" stroke="#e4f0fd" stroke-width="3" transform="rotate(22 2116 882)"/>
<polyline points="2088.9,916 2088.1,914.7 2087.4,913.3 2086.7,911.8 2086.2,910.1 2085.7,908.4 2085.3,906.6 2085,904.7 2084.8,902.7 2084.7,900.6 2084.7,898.5 2084.8,896.4 2085,894.1 2085.2,891.9 2085.6,889.6 2086,887.3 2086.6,885 2087.2,882.7 2087.9,880.3 2088.7,878 2089.6,875.8 2090.6,873.5 2091.6,871.3 2092.7,869.1 2093.8,867 2095.1,865 2096.3,863 2097.7,861.1 2099,859.3 2100.4,857.6 2101.9,856 2103.4,854.5 2104.9,853.1 2106.4,851.8 2107.9,850.6 2109.5,849.6 2111,848.6 2112.6,847.9 2114.1,847.2 2115.6,846.7 2117.1,846.3" fill="none" stroke="#e4f0fd" stroke-width="2" stroke-linecap="round" stroke-linejoin="round"/>
<ellipse cx="2043" cy="742" rx="3.5" ry="3.5" fill="none" stroke="#e4f0fd" stroke-width="1.5"/>
<ellipse cx="2027" cy="753" rx="3.5" ry="3.5" fill="none" stroke="#e4f0fd" stroke-width="1.5"/>
<ellipse cx="2013" cy="767" rx="3.5" ry="3.5" fill="none" stroke="#e4f0fd" stroke-width="1.5"/>
<ellipse cx="1999" cy="784" rx="3.5" ry="3.5" fill="none" stroke="#e4f0fd" stroke-width="1.5"/>
<ellipse cx="1987" cy="800" rx="3.5" ry="3.5" fill="none" stroke="#e4f0fd" stroke-width="1.5"/>
<ellipse cx="1978" cy="819" rx="3.5" ry="3.5" fill="none" stroke="#e4f0fd" stroke-width="1.5"/>
<ellipse cx="1969" cy="845" rx="3.5" ry="3.5" fill="none" stroke="#e4f0fd" stroke-width="1.5"/>
<ellipse cx="1962" cy="861" rx="3.5" ry="3.5" fill="none" stroke="#e4f0fd" stroke-width="1.5"/>
<ellipse cx="1959" cy="894" rx="3.5" ry="3.5" fill="none" stroke="#e4f0fd" stroke-width="1.5"/>
<ellipse cx="1959" cy="912" rx="3.5" ry="3.5" fill="none" stroke="#e4f0fd" stroke-width="1.5"/>
<ellipse cx="1964" cy="931" rx="3.5" ry="3.5" fill="none" stroke="#e4f0fd" stroke-width="1.5"/>
<ellipse cx="1971" cy="950" rx="3.5" ry="3.5" fill="none" stroke="#e4f0fd" stroke-width="1.5"/>
<polygon points="1640,510 1700,499 1760,487 1818,475 1943,442 1975,428 2006,417 2028,427 2033,457 2031,482 1990,487 1931,497 1885,506 1870,520 1750,548 1700,540 1662,533" fill="#1c1f5c"/>
<polygon points="1640,510 1760,487 1818,475 1943,442 1975,428 2006,417 2022,424 1985,440 1943,455 1818,488 1700,512 1655,522" fill="#27327c"/>
<ellipse cx="2017" cy="461" rx="4.5" ry="6" fill="#f4f8ff" transform="rotate(10 2017 461)"/>
<polygon points="1662,532 1722,536 1724,560 1712,590 1702,625 1687,707 1680,722 1645,724 1632,705 1625,650 1627,635 1652,612 1665,560" fill="#1c1f5c"/>
<polygon points="1687,560 1706,570 1700,615 1662,628 1672,590" fill="#27327c"/>
<polyline points="1668,548 1716,552" fill="none" stroke="#e4f0fd" stroke-width="1.5" stroke-linecap="round" stroke-linejoin="round"/>
<polygon points="2088,465 2128,477 2136,500 2133,530 1976,697 1931,700 1896,692" fill="#1c1f5c"/>
<polygon points="2088,465 2120,476 1958,675 1931,698 1896,692" fill="#384c9e"/>
<polyline points="2092,468 1900,692" fill="none" stroke="#6f8fd0" stroke-width="2" stroke-linecap="round" stroke-linejoin="round"/>
<ellipse cx="2115" cy="514" rx="6" ry="8" fill="#f4f8ff" transform="rotate(15 2115 514)"/>
<path d="M1931,712C1931,704.5 1927.5,695.3 1930,690C1932.5,684.7 1939.7,680.5 1946,680C1952.3,679.5 1962.2,682.8 1968,687C1973.8,691.2 1978,698.3 1981,705C1984,711.7 1989.5,721.2 1986,727C1982.5,732.8 1969.3,738.7 1960,740C1950.7,741.3 1934.8,739.7 1930,735C1925.2,730.3 1931,719.5 1931,712Z" fill="#428ae3"/>
<path d="M1931,712C1931.3,708.3 1930.2,694.8 1933,690C1935.8,685.2 1942.5,683 1948,683C1953.5,683 1962,685.5 1966,690C1970,694.5 1971,706.7 1972,710" fill="none" stroke="#e4f0fd" stroke-width="2" stroke-linecap="round" stroke-linejoin="round"/>
<path d="M1925,725C1928.3,726.7 1936.7,734.2 1945,735C1953.3,735.8 1968.3,732.8 1975,730C1981.7,727.2 1983.3,720 1985,718" fill="none" stroke="#e4f0fd" stroke-width="2" stroke-linecap="round" stroke-linejoin="round"/>
<ellipse cx="1951" cy="690" rx="7" ry="5" fill="none" stroke="#e4f0fd" stroke-width="1.5"/>
<polygon points="1555,294 1597,310 1602,327 1600,345 1598,359 1505,387 1440,418 1380,447 1340,462 1338,425 1344,415 1380,390 1455,352 1515,312" fill="#1c1f5c"/>
<polygon points="1555,294 1590,308 1560,322 1500,350 1440,385 1380,418 1344,440 1344,415 1380,390 1455,352 1515,312" fill="#384c9e"/>
<ellipse cx="1584" cy="328" rx="7" ry="9" fill="#f4f8ff" transform="rotate(15 1584 328)"/>
<polygon points="1452,244 1487,250 1494,275 1502,291 1490,302 1440,332 1385,368 1345,405 1330,430 1326,452 1312,465 1296,464 1268,458 1255,450 1248,430 1250,405 1262,392 1285,378 1330,335 1380,292 1420,262" fill="#1c1f5c"/>
<polygon points="1452,244 1482,250 1440,280 1385,322 1340,362 1300,398 1285,378 1330,335 1380,292 1420,262" fill="#384c9e"/>
<polyline points="1484,252 1300,400" fill="none" stroke="#6f8fd0" stroke-width="2" stroke-linecap="round" stroke-linejoin="round"/>
<ellipse cx="1484" cy="277" rx="3.5" ry="5.5" fill="#dfeaff" transform="rotate(10 1484 277)"/>
<polygon points="1268,414 1283,405 1294,416 1292,452 1272,456 1264,435" fill="#428ae3" stroke="#e4f0fd" stroke-width="1.5" stroke-linejoin="round"/>
<polygon points="1162,146 1177,145 1181,186 1166,188" fill="#384c9e"/>
<polygon points="1163,146 1176,145 1177,156 1164,157" fill="#c98f9f"/>
<polygon points="1152,195 1197,187 1199,214 1154,222" fill="#1c1f5c"/>
<ellipse cx="1174" cy="190" rx="22" ry="8" fill="#27327c" stroke="#8fa6d8" stroke-width="1.5" transform="rotate(-8 1174 190)"/>
<polygon points="1151,212 1198,203 1227,357 1182,367" fill="#1c1f5c"/>
<polygon points="1176,208 1186,206 1214,360 1204,362" fill="#27327c"/>
<polygon points="1184,367 1222,360 1229,436 1222,444 1203,446 1194,440" fill="#8fb0e0"/>
<polygon points="1196,365 1207,363 1214,442 1203,444" fill="#d5e4f7"/>
<polygon points="1184,367 1192,366 1200,442 1194,440" fill="#3f6fc0"/>
<polygon points="1828,369 1841,368 1847,405 1832,407" fill="#384c9e"/>
<ellipse cx="1834.5" cy="369" rx="6.5" ry="3" fill="#9fb6e6"/>
<polygon points="1822,410 1857,406 1859,440 1823,444" fill="#1c1f5c"/>
<ellipse cx="1839" cy="408" rx="17.5" ry="6" fill="#27327c" stroke="#8fa6d8" stroke-width="1.5" transform="rotate(-5 1839 408)"/>
<polygon points="1817,440 1872,436 1882,606 1823,612" fill="#1c1f5c"/>
<polygon points="1838,440 1850,439 1858,606 1846,607" fill="#27327c"/>
<polyline points="1070.5,242.9 1073.4,241.3 1076.5,239.9 1079.8,238.7 1083.2,237.6 1086.8,236.8 1090.5,236.1 1094.3,235.6 1098.1,235.3 1102,235.3 1105.9,235.4 1109.7,235.7 1113.5,236.3 1117.2,237 1120.8,237.9 1124.3,239 1127.5,240.3 1130.6,241.7 1133.5,243.3 1136.1,245.1 1138.5,246.9 1140.6,248.9 1142.4,251 1143.8,253.2 1145,255.4 1145.9,257.7 1146.4,260 1146.5,262.3 1146.4,264.6" fill="none" stroke="#1c1f5c" stroke-width="19" stroke-linecap="butt" stroke-linejoin="round"/>
<polyline points="1070.5,243.9 1073.4,242.3 1076.5,240.9 1079.8,239.7 1083.2,238.6 1086.8,237.8 1090.5,237.1 1094.3,236.6 1098.1,236.3 1102,236.3 1105.9,236.4 1109.7,236.7 1113.5,237.3 1117.2,238 1120.8,238.9 1124.3,240 1127.5,241.3 1130.6,242.7 1133.5,244.3 1136.1,246.1 1138.5,247.9 1140.6,249.9 1142.4,252 1143.8,254.2 1145,256.4 1145.9,258.7 1146.4,261 1146.5,263.3 1146.4,265.6" fill="none" stroke="#27327c" stroke-width="9.5" stroke-linecap="butt" stroke-linejoin="round"/>
<polyline points="1058.7,271.8 1059,270 1059.5,268.3 1060.4,266.6 1061.7,265 1063.2,263.4 1065.1,261.9 1067.2,260.6 1069.6,259.3 1072.3,258.2 1075.3,257.2 1078.4,256.3 1081.7,255.7 1085.2,255.2 1088.9,254.8 1092.7,254.7 1096.5,254.7 1100.4,255 1104.4,255.4 1108.3,256 1112.2,256.9 1116.1,257.9 1119.9,259.1 1123.5,260.5 1127,262 1130.3,263.7 1133.5,265.6 1136.4,267.6 1139.1,269.8 1141.5,272.1 1143.7,274.5 1145.5,277 1147.1,279.5 1148.3,282.2 1149.2,284.8 1149.8,287.5 1150,290.2 1149.9,293" fill="none" stroke="#1c1f5c" stroke-width="19" stroke-linecap="butt" stroke-linejoin="round"/>
<polyline points="1058.7,272.8 1059,271 1059.5,269.3 1060.4,267.6 1061.7,266 1063.2,264.4 1065.1,262.9 1067.2,261.6 1069.6,260.3 1072.3,259.2 1075.3,258.2 1078.4,257.3 1081.7,256.7 1085.2,256.2 1088.9,255.8 1092.7,255.7 1096.5,255.7 1100.4,256 1104.4,256.4 1108.3,257 1112.2,257.9 1116.1,258.9 1119.9,260.1 1123.5,261.5 1127,263 1130.3,264.7 1133.5,266.6 1136.4,268.6 1139.1,270.8 1141.5,273.1 1143.7,275.5 1145.5,278 1147.1,280.5 1148.3,283.2 1149.2,285.8 1149.8,288.5 1150,291.2 1149.9,294" fill="none" stroke="#27327c" stroke-width="9.5" stroke-linecap="butt" stroke-linejoin="round"/>
<polyline points="1063.4,309.2 1063.6,307.6 1064.2,306 1065.1,304.5 1066.4,303 1067.9,301.5 1069.8,300.2 1071.9,298.9 1074.4,297.8 1077,296.7 1080,295.8 1083.1,295.1 1086.5,294.5 1090,294 1093.6,293.8 1097.4,293.7 1101.3,293.8 1105.2,294.1 1109.1,294.5 1113.1,295.2 1117,296 1120.8,297 1124.6,298.2 1128.3,299.6 1131.8,301.1 1135.1,302.8 1138.3,304.7 1141.2,306.7 1143.9,308.8 1146.3,311 1148.5,313.3 1150.3,315.8 1151.9,318.3 1153.1,320.8 1154,323.5 1154.6,326.1 1154.8,328.8 1154.7,331.4" fill="none" stroke="#1c1f5c" stroke-width="19" stroke-linecap="butt" stroke-linejoin="round"/>
<polyline points="1063.4,310.2 1063.6,308.6 1064.2,307 1065.1,305.5 1066.4,304 1067.9,302.5 1069.8,301.2 1071.9,299.9 1074.4,298.8 1077,297.7 1080,296.8 1083.1,296.1 1086.5,295.5 1090,295 1093.6,294.8 1097.4,294.7 1101.3,294.8 1105.2,295.1 1109.1,295.5 1113.1,296.2 1117,297 1120.8,298 1124.6,299.2 1128.3,300.6 1131.8,302.1 1135.1,303.8 1138.3,305.7 1141.2,307.7 1143.9,309.8 1146.3,312 1148.5,314.3 1150.3,316.8 1151.9,319.3 1153.1,321.8 1154,324.5 1154.6,327.1 1154.8,329.8 1154.7,332.4" fill="none" stroke="#27327c" stroke-width="9.5" stroke-linecap="butt" stroke-linejoin="round"/>
<polyline points="1068.2,347.5 1068.4,346 1069,344.4 1069.9,343 1071.1,341.5 1072.7,340.1 1074.5,338.9 1076.7,337.7 1079.1,336.6 1081.8,335.6 1084.7,334.7 1087.9,334 1091.2,333.5 1094.7,333.1 1098.3,332.8 1102.1,332.8 1106,332.8 1109.9,333.1 1113.8,333.6 1117.8,334.2 1121.7,335 1125.5,335.9 1129.3,337 1132.9,338.3 1136.4,339.8 1139.8,341.4 1142.9,343.1 1145.8,344.9 1148.5,346.9 1151,349 1153.1,351.2 1155,353.5 1156.5,355.8 1157.7,358.2 1158.6,360.6 1159.2,363 1159.4,365.5 1159.3,368" fill="none" stroke="#1c1f5c" stroke-width="19" stroke-linecap="butt" stroke-linejoin="round"/>
<polyline points="1068.2,348.5 1068.4,347 1069,345.4 1069.9,344 1071.1,342.5 1072.7,341.1 1074.5,339.9 1076.7,338.7 1079.1,337.6 1081.8,336.6 1084.7,335.7 1087.9,335 1091.2,334.5 1094.7,334.1 1098.3,333.8 1102.1,333.8 1106,333.8 1109.9,334.1 1113.8,334.6 1117.8,335.2 1121.7,336 1125.5,336.9 1129.3,338 1132.9,339.3 1136.4,340.8 1139.8,342.4 1142.9,344.1 1145.8,345.9 1148.5,347.9 1151,350 1153.1,352.2 1155,354.5 1156.5,356.8 1157.7,359.2 1158.6,361.6 1159.2,364 1159.4,366.5 1159.3,369" fill="none" stroke="#27327c" stroke-width="9.5" stroke-linecap="butt" stroke-linejoin="round"/>
<polyline points="1072.4,381.5 1072.7,380 1073.2,378.6 1074.1,377.1 1075.3,375.8 1076.8,374.4 1078.7,373.2 1080.8,372 1083.2,371 1085.9,370 1088.8,369.2 1091.9,368.5 1095.3,367.9 1098.8,367.4 1102.4,367.2 1106.1,367 1110,367 1113.9,367.2 1117.8,367.6 1121.7,368 1125.6,368.7 1129.5,369.5 1133.2,370.5 1136.9,371.6 1140.4,372.8 1143.7,374.2 1146.8,375.7 1149.7,377.4 1152.4,379.1 1154.8,380.9 1156.9,382.9 1158.8,384.9 1160.3,386.9 1161.5,389 1162.4,391.2 1163,393.3 1163.2,395.5 1163.1,397.7" fill="none" stroke="#1c1f5c" stroke-width="19" stroke-linecap="butt" stroke-linejoin="round"/>
<polyline points="1072.4,382.5 1072.7,381 1073.2,379.6 1074.1,378.1 1075.3,376.8 1076.8,375.4 1078.7,374.2 1080.8,373 1083.2,372 1085.9,371 1088.8,370.2 1091.9,369.5 1095.3,368.9 1098.8,368.4 1102.4,368.2 1106.1,368 1110,368 1113.9,368.2 1117.8,368.6 1121.7,369 1125.6,369.7 1129.5,370.5 1133.2,371.5 1136.9,372.6 1140.4,373.8 1143.7,375.2 1146.8,376.7 1149.7,378.4 1152.4,380.1 1154.8,381.9 1156.9,383.9 1158.8,385.9 1160.3,387.9 1161.5,390 1162.4,392.2 1163,394.3 1163.2,396.5 1163.1,398.7" fill="none" stroke="#27327c" stroke-width="9.5" stroke-linecap="butt" stroke-linejoin="round"/>
<polyline points="1075.8,408.8 1076.1,407.4 1076.6,406 1077.5,404.7 1078.7,403.4 1080.2,402.2 1082.1,401 1084.2,399.9 1086.6,398.9 1089.3,398 1092.2,397.2 1095.3,396.5 1098.6,396 1102.1,395.6 1105.7,395.3 1109.5,395.1 1113.3,395.1 1117.2,395.2 1121.1,395.5 1125,396 1128.9,396.5 1132.8,397.3 1136.5,398.1 1140.1,399.1 1143.6,400.3 1147,401.6 1150.1,402.9 1153,404.4 1155.6,406 1158.1,407.7 1160.2,409.5 1162,411.4 1163.5,413.3 1164.8,415.2 1165.6,417.2 1166.2,419.2 1166.4,421.2 1166.3,423.3" fill="none" stroke="#1c1f5c" stroke-width="19" stroke-linecap="butt" stroke-linejoin="round"/>
<polyline points="1075.8,409.8 1076.1,408.4 1076.6,407 1077.5,405.7 1078.7,404.4 1080.2,403.2 1082.1,402 1084.2,400.9 1086.6,399.9 1089.3,399 1092.2,398.2 1095.3,397.5 1098.6,397 1102.1,396.6 1105.7,396.3 1109.5,396.1 1113.3,396.1 1117.2,396.2 1121.1,396.5 1125,397 1128.9,397.5 1132.8,398.3 1136.5,399.1 1140.1,400.1 1143.6,401.3 1147,402.6 1150.1,403.9 1153,405.4 1155.6,407 1158.1,408.7 1160.2,410.5 1162,412.4 1163.5,414.3 1164.8,416.2 1165.6,418.2 1166.2,420.2 1166.4,422.2 1166.3,424.3" fill="none" stroke="#27327c" stroke-width="9.5" stroke-linecap="butt" stroke-linejoin="round"/>
<polyline points="1079.1,435 1079,433.7 1079.2,432.5 1079.7,431.2 1080.6,430 1081.8,428.8 1083.4,427.6 1085.2,426.5 1087.3,425.5 1089.7,424.6 1092.4,423.7 1095.3,423 1098.4,422.4 1101.7,421.8 1105.2,421.5 1108.9,421.2 1112.6,421.1 1116.4,421.1 1120.3,421.2 1124.2,421.5 1128.2,422 1132.1,422.5 1135.9,423.2 1139.6,424.1 1143.3,425.1 1146.8,426.2 1150.1,427.4 1153.2,428.7 1156.1,430.1 1158.8,431.7 1161.2,433.3 1163.3,435 1165.1,436.8 1166.7,438.6 1167.9,440.5 1168.8,442.4 1169.3,444.3 1169.5,446.2 1169.4,448.2" fill="none" stroke="#1c1f5c" stroke-width="19" stroke-linecap="butt" stroke-linejoin="round"/>
<polyline points="1079.1,436 1079,434.7 1079.2,433.5 1079.7,432.2 1080.6,431 1081.8,429.8 1083.4,428.6 1085.2,427.5 1087.3,426.5 1089.7,425.6 1092.4,424.7 1095.3,424 1098.4,423.4 1101.7,422.8 1105.2,422.5 1108.9,422.2 1112.6,422.1 1116.4,422.1 1120.3,422.2 1124.2,422.5 1128.2,423 1132.1,423.5 1135.9,424.2 1139.6,425.1 1143.3,426.1 1146.8,427.2 1150.1,428.4 1153.2,429.7 1156.1,431.1 1158.8,432.7 1161.2,434.3 1163.3,436 1165.1,437.8 1166.7,439.6 1167.9,441.5 1168.8,443.4 1169.3,445.3 1169.5,447.2 1169.4,449.2" fill="none" stroke="#27327c" stroke-width="9.5" stroke-linecap="butt" stroke-linejoin="round"/>
<polyline points="1082.1,458.8 1081.9,457.5 1082.1,456.2 1082.7,454.9 1083.6,453.7 1084.8,452.5 1086.3,451.3 1088.1,450.2 1090.2,449.1 1092.6,448.2 1095.3,447.3" fill="none" stroke="#1c1f5c" stroke-width="19" stroke-linecap="butt" stroke-linejoin="round"/>
<polyline points="1082.1,459.8 1081.9,458.5 1082.1,457.2 1082.7,455.9 1083.6,454.7 1084.8,453.5 1086.3,452.3 1088.1,451.2 1090.2,450.1 1092.6,449.2 1095.3,448.3" fill="none" stroke="#27327c" stroke-width="9.5" stroke-linecap="butt" stroke-linejoin="round"/>
<polyline points="1145,269.2 1143.9,271.4 1142.4,273.5 1140.6,275.6 1138.5,277.5 1136.1,279.4 1133.5,281 1130.7,282.6 1127.6,284 1124.3,285.2 1120.9,286.3 1117.3,287.2 1113.6,287.8 1109.8,288.3 1105.9,288.6 1102.1,288.7 1098.2,289.1 1094.5,289.3 1090.7,289.3 1087.1,289.1 1083.6,288.8 1080.2,288.2 1077,287.5 1074,286.6 1071.2,285.6 1068.6,284.4 1066.3,283.1 1064.3,281.7 1062.6,280.2 1061.1,278.6 1060,276.9 1059.3,275.2" fill="none" stroke="#e4f0fd" stroke-width="22.5" stroke-linecap="butt" stroke-linejoin="round"/>
<polyline points="1146.5,262.3 1146.4,264.6 1145.9,266.9 1145,269.2 1143.9,271.4 1142.4,273.5 1140.6,275.6 1138.5,277.5 1136.1,279.4 1133.5,281 1130.7,282.6 1127.6,284 1124.3,285.2 1120.9,286.3 1117.3,287.2 1113.6,287.8 1109.8,288.3 1105.9,288.6 1102.1,288.7 1098.2,289.1 1094.5,289.3 1090.7,289.3 1087.1,289.1 1083.6,288.8 1080.2,288.2 1077,287.5 1074,286.6 1071.2,285.6 1068.6,284.4 1066.3,283.1 1064.3,281.7 1062.6,280.2 1061.1,278.6 1060,276.9 1059.3,275.2 1058.8,273.5 1058.7,271.8 1059,270" fill="none" stroke="#1c1f5c" stroke-width="19" stroke-linecap="butt" stroke-linejoin="round"/>
<polyline points="1143.9,268.9 1142.4,271 1140.6,273.1 1138.5,275 1136.1,276.9 1133.5,278.5 1130.7,280.1 1127.6,281.5 1124.3,282.7 1120.9,283.8 1117.3,284.7 1113.6,285.3 1109.8,285.8 1105.9,286.1 1102.1,286.2 1098.2,286.6 1094.5,286.8 1090.7,286.8 1087.1,286.6 1083.6,286.3 1080.2,285.7 1077,285 1074,284.1 1071.2,283.1 1068.6,281.9 1066.3,280.6 1064.3,279.2 1062.6,277.7 1061.1,276.1" fill="none" stroke="#24418f" stroke-width="6.460000000000001" stroke-linecap="round" stroke-linejoin="round"/>
<polyline points="1124.3,281.7 1120.9,282.8 1117.3,283.7 1113.6,284.3 1109.8,284.8 1105.9,285.1 1102.1,285.2 1098.2,285.6 1094.5,285.8 1090.7,285.8 1087.1,285.6 1083.6,285.3 1080.2,284.7 1077,284 1074,283.1 1071.2,282.1" fill="none" stroke="#3563b8" stroke-width="2.85" stroke-linecap="round" stroke-linejoin="round"/>
<ellipse cx="1080.2" cy="285.2" rx="3.6" ry="2.6" fill="#f6faff"/>
<polyline points="1148.7,298.3 1147.6,300.9 1146.2,303.5 1144.5,305.9 1142.4,308.3 1140.1,310.5 1137.6,312.6 1134.8,314.6 1131.8,316.5 1128.6,318.1 1125.2,319.6 1121.7,321 1118,322.1 1114.3,323.1 1110.5,323.9 1106.7,324.5 1102.9,324.9 1099.1,325.2 1095.4,325.2 1091.7,325.1 1088.2,324.8 1084.8,324.3 1081.6,323.7 1078.6,322.9 1075.8,321.9 1073.3,320.9 1071,319.7 1069,318.4 1067.2,317 1065.8,315.6 1064.7,314 1063.9,312.5" fill="none" stroke="#e4f0fd" stroke-width="22.5" stroke-linecap="butt" stroke-linejoin="round"/>
<polyline points="1150,290.2 1149.9,293 1149.5,295.7 1148.7,298.3 1147.6,300.9 1146.2,303.5 1144.5,305.9 1142.4,308.3 1140.1,310.5 1137.6,312.6 1134.8,314.6 1131.8,316.5 1128.6,318.1 1125.2,319.6 1121.7,321 1118,322.1 1114.3,323.1 1110.5,323.9 1106.7,324.5 1102.9,324.9 1099.1,325.2 1095.4,325.2 1091.7,325.1 1088.2,324.8 1084.8,324.3 1081.6,323.7 1078.6,322.9 1075.8,321.9 1073.3,320.9 1071,319.7 1069,318.4 1067.2,317 1065.8,315.6 1064.7,314 1063.9,312.5 1063.5,310.9 1063.4,309.2 1063.6,307.6" fill="none" stroke="#1c1f5c" stroke-width="19" stroke-linecap="butt" stroke-linejoin="round"/>
<polyline points="1147.6,298.4 1146.2,301 1144.5,303.4 1142.4,305.8 1140.1,308 1137.6,310.1 1134.8,312.1 1131.8,314 1128.6,315.6 1125.2,317.1 1121.7,318.5 1118,319.6 1114.3,320.6 1110.5,321.4 1106.7,322 1102.9,322.4 1099.1,322.7 1095.4,322.7 1091.7,322.6 1088.2,322.3 1084.8,321.8 1081.6,321.2 1078.6,320.4 1075.8,319.4 1073.3,318.4 1071,317.2 1069,315.9 1067.2,314.5 1065.8,313.1" fill="none" stroke="#24418f" stroke-width="6.460000000000001" stroke-linecap="round" stroke-linejoin="round"/>
<polyline points="1128.6,314.6 1125.2,316.1 1121.7,317.5 1118,318.6 1114.3,319.6 1110.5,320.4 1106.7,321 1102.9,321.4 1099.1,321.7 1095.4,321.7 1091.7,321.6 1088.2,321.3 1084.8,320.8 1081.6,320.2 1078.6,319.4 1075.8,318.4" fill="none" stroke="#3563b8" stroke-width="2.85" stroke-linecap="round" stroke-linejoin="round"/>
<ellipse cx="1084.8" cy="321.3" rx="3.6" ry="2.6" fill="#f6faff"/>
<polyline points="1153.5,336.6 1152.4,339.2 1151,341.7 1149.3,344.1 1147.3,346.4 1145,348.6 1142.4,350.7 1139.6,352.6 1136.6,354.4 1133.4,356.1 1130,357.6 1126.5,358.9 1122.9,360.1 1119.2,361.1 1115.4,361.8 1111.6,362.4 1107.7,362.8 1104,363 1100.2,363.1 1096.6,362.9 1093.1,362.6 1089.7,362.1 1086.5,361.5 1083.5,360.7 1080.7,359.8 1078.1,358.7 1075.8,357.6 1073.8,356.3 1072,355 1070.6,353.6 1069.5,352.1 1068.7,350.6" fill="none" stroke="#e4f0fd" stroke-width="22.5" stroke-linecap="butt" stroke-linejoin="round"/>
<polyline points="1154.8,328.8 1154.7,331.4 1154.3,334 1153.5,336.6 1152.4,339.2 1151,341.7 1149.3,344.1 1147.3,346.4 1145,348.6 1142.4,350.7 1139.6,352.6 1136.6,354.4 1133.4,356.1 1130,357.6 1126.5,358.9 1122.9,360.1 1119.2,361.1 1115.4,361.8 1111.6,362.4 1107.7,362.8 1104,363 1100.2,363.1 1096.6,362.9 1093.1,362.6 1089.7,362.1 1086.5,361.5 1083.5,360.7 1080.7,359.8 1078.1,358.7 1075.8,357.6 1073.8,356.3 1072,355 1070.6,353.6 1069.5,352.1 1068.7,350.6 1068.3,349 1068.2,347.5 1068.4,346" fill="none" stroke="#1c1f5c" stroke-width="19" stroke-linecap="butt" stroke-linejoin="round"/>
<polyline points="1152.4,336.7 1151,339.2 1149.3,341.6 1147.3,343.9 1145,346.1 1142.4,348.2 1139.6,350.1 1136.6,351.9 1133.4,353.6 1130,355.1 1126.5,356.4 1122.9,357.6 1119.2,358.6 1115.4,359.3 1111.6,359.9 1107.7,360.3 1104,360.5 1100.2,360.6 1096.6,360.4 1093.1,360.1 1089.7,359.6 1086.5,359 1083.5,358.2 1080.7,357.3 1078.1,356.2 1075.8,355.1 1073.8,353.8 1072,352.5 1070.6,351.1" fill="none" stroke="#24418f" stroke-width="6.460000000000001" stroke-linecap="round" stroke-linejoin="round"/>
<polyline points="1133.4,352.6 1130,354.1 1126.5,355.4 1122.9,356.6 1119.2,357.6 1115.4,358.3 1111.6,358.9 1107.7,359.3 1104,359.5 1100.2,359.6 1096.6,359.4 1093.1,359.1 1089.7,358.6 1086.5,358 1083.5,357.2 1080.7,356.3" fill="none" stroke="#3563b8" stroke-width="2.85" stroke-linecap="round" stroke-linejoin="round"/>
<ellipse cx="1089.7" cy="359.1" rx="3.6" ry="2.6" fill="#f6faff"/>
<polyline points="1158.1,372.8 1157,375.1 1155.6,377.4 1153.9,379.6 1151.8,381.8 1149.5,383.8 1147,385.7 1144.2,387.5 1141.1,389.1 1137.9,390.7 1134.6,392 1131,393.2 1127.4,394.3 1123.7,395.2 1119.9,395.9 1116.1,396.4 1112.2,396.7 1108.4,396.8 1104.7,396.8 1101,396.6 1097.5,396.2 1094.1,395.7 1090.9,395 1087.8,394.3 1085,393.3 1082.5,392.3 1080.1,391.2 1078.1,390 1076.4,388.7 1074.9,387.3 1073.8,385.9 1073,384.5" fill="none" stroke="#e4f0fd" stroke-width="22.5" stroke-linecap="butt" stroke-linejoin="round"/>
<polyline points="1159.4,365.5 1159.3,368 1158.9,370.4 1158.1,372.8 1157,375.1 1155.6,377.4 1153.9,379.6 1151.8,381.8 1149.5,383.8 1147,385.7 1144.2,387.5 1141.1,389.1 1137.9,390.7 1134.6,392 1131,393.2 1127.4,394.3 1123.7,395.2 1119.9,395.9 1116.1,396.4 1112.2,396.7 1108.4,396.8 1104.7,396.8 1101,396.6 1097.5,396.2 1094.1,395.7 1090.9,395 1087.8,394.3 1085,393.3 1082.5,392.3 1080.1,391.2 1078.1,390 1076.4,388.7 1074.9,387.3 1073.8,385.9 1073,384.5 1072.6,383 1072.4,381.5 1072.7,380" fill="none" stroke="#1c1f5c" stroke-width="19" stroke-linecap="butt" stroke-linejoin="round"/>
<polyline points="1157,372.6 1155.6,374.9 1153.9,377.1 1151.8,379.3 1149.5,381.3 1147,383.2 1144.2,385 1141.1,386.6 1137.9,388.2 1134.6,389.5 1131,390.7 1127.4,391.8 1123.7,392.7 1119.9,393.4 1116.1,393.9 1112.2,394.2 1108.4,394.3 1104.7,394.3 1101,394.1 1097.5,393.7 1094.1,393.2 1090.9,392.5 1087.8,391.8 1085,390.8 1082.5,389.8 1080.1,388.7 1078.1,387.5 1076.4,386.2 1074.9,384.8" fill="none" stroke="#24418f" stroke-width="6.460000000000001" stroke-linecap="round" stroke-linejoin="round"/>
<polyline points="1137.9,387.2 1134.6,388.5 1131,389.7 1127.4,390.8 1123.7,391.7 1119.9,392.4 1116.1,392.9 1112.2,393.2 1108.4,393.3 1104.7,393.3 1101,393.1 1097.5,392.7 1094.1,392.2 1090.9,391.5 1087.8,390.8 1085,389.8" fill="none" stroke="#3563b8" stroke-width="2.85" stroke-linecap="round" stroke-linejoin="round"/>
<ellipse cx="1094.1" cy="392.7" rx="3.6" ry="2.6" fill="#f6faff"/>
<polyline points="1161.8,401.9 1160.7,404 1159.3,406 1157.5,408 1155.5,409.8 1153.2,411.6 1150.6,413.3 1147.8,414.8 1144.7,416.3 1141.5,417.6 1138.1,418.8 1134.6,419.8 1130.9,420.7 1127.2,421.4 1123.4,422 1119.6,422.5 1115.7,422.7 1111.9,422.8 1108.2,422.8 1104.5,422.6 1101,422.3 1097.6,421.8 1094.3,421.2 1091.3,420.5 1088.5,419.7 1085.9,418.7 1083.6,417.7 1081.5,416.6 1079.8,415.4 1078.4,414.1 1077.2,412.8 1076.4,411.5" fill="none" stroke="#e4f0fd" stroke-width="22.5" stroke-linecap="butt" stroke-linejoin="round"/>
<polyline points="1163.2,395.5 1163.1,397.7 1162.6,399.8 1161.8,401.9 1160.7,404 1159.3,406 1157.5,408 1155.5,409.8 1153.2,411.6 1150.6,413.3 1147.8,414.8 1144.7,416.3 1141.5,417.6 1138.1,418.8 1134.6,419.8 1130.9,420.7 1127.2,421.4 1123.4,422 1119.6,422.5 1115.7,422.7 1111.9,422.8 1108.2,422.8 1104.5,422.6 1101,422.3 1097.6,421.8 1094.3,421.2 1091.3,420.5 1088.5,419.7 1085.9,418.7 1083.6,417.7 1081.5,416.6 1079.8,415.4 1078.4,414.1 1077.2,412.8 1076.4,411.5 1076,410.1 1075.8,408.8 1076.1,407.4" fill="none" stroke="#1c1f5c" stroke-width="19" stroke-linecap="butt" stroke-linejoin="round"/>
<polyline points="1160.7,401.5 1159.3,403.5 1157.5,405.5 1155.5,407.3 1153.2,409.1 1150.6,410.8 1147.8,412.3 1144.7,413.8 1141.5,415.1 1138.1,416.3 1134.6,417.3 1130.9,418.2 1127.2,418.9 1123.4,419.5 1119.6,420 1115.7,420.2 1111.9,420.3 1108.2,420.3 1104.5,420.1 1101,419.8 1097.6,419.3 1094.3,418.7 1091.3,418 1088.5,417.2 1085.9,416.2 1083.6,415.2 1081.5,414.1 1079.8,412.9 1078.4,411.6" fill="none" stroke="#24418f" stroke-width="6.460000000000001" stroke-linecap="round" stroke-linejoin="round"/>
<polyline points="1141.5,414.1 1138.1,415.3 1134.6,416.3 1130.9,417.2 1127.2,417.9 1123.4,418.5 1119.6,419 1115.7,419.2 1111.9,419.3 1108.2,419.3 1104.5,419.1 1101,418.8 1097.6,418.3 1094.3,417.7 1091.3,417 1088.5,416.2" fill="none" stroke="#3563b8" stroke-width="2.85" stroke-linecap="round" stroke-linejoin="round"/>
<ellipse cx="1097.6" cy="418.8" rx="3.6" ry="2.6" fill="#f6faff"/>
<polyline points="1165,427.3 1163.9,429.2 1162.5,431.1 1160.7,432.9 1158.7,434.7 1156.3,436.3 1153.8,437.9 1150.9,439.3 1147.9,440.7 1144.7,441.9 1141.3,443 1137.7,444 1134.1,444.8 1130.3,445.5 1126.5,446.1 1122.7,446.5 1118.9,446.7 1115,446.9 1111.3,446.8 1107.6,446.7 1104.1,446.4 1100.7,445.9 1097.5,445.4 1094.4,444.7 1091.6,444 1089,443.1 1086.7,442.1 1084.7,441.1 1082.9,440 1081.5,438.8 1080.4,437.6" fill="none" stroke="#e4f0fd" stroke-width="22.5" stroke-linecap="butt" stroke-linejoin="round"/>
<polyline points="1166.4,421.2 1166.3,423.3 1165.8,425.3 1165,427.3 1163.9,429.2 1162.5,431.1 1160.7,432.9 1158.7,434.7 1156.3,436.3 1153.8,437.9 1150.9,439.3 1147.9,440.7 1144.7,441.9 1141.3,443 1137.7,444 1134.1,444.8 1130.3,445.5 1126.5,446.1 1122.7,446.5 1118.9,446.7 1115,446.9 1111.3,446.8 1107.6,446.7 1104.1,446.4 1100.7,445.9 1097.5,445.4 1094.4,444.7 1091.6,444 1089,443.1 1086.7,442.1 1084.7,441.1 1082.9,440 1081.5,438.8 1080.4,437.6 1079.6,436.3 1079.1,435 1079,433.7" fill="none" stroke="#1c1f5c" stroke-width="19" stroke-linecap="butt" stroke-linejoin="round"/>
<polyline points="1163.9,426.7 1162.5,428.6 1160.7,430.4 1158.7,432.2 1156.3,433.8 1153.8,435.4 1150.9,436.8 1147.9,438.2 1144.7,439.4 1141.3,440.5 1137.7,441.5 1134.1,442.3 1130.3,443 1126.5,443.6 1122.7,444 1118.9,444.2 1115,444.4 1111.3,444.3 1107.6,444.2 1104.1,443.9 1100.7,443.4 1097.5,442.9 1094.4,442.2 1091.6,441.5 1089,440.6 1086.7,439.6 1084.7,438.6 1082.9,437.5" fill="none" stroke="#24418f" stroke-width="6.460000000000001" stroke-linecap="round" stroke-linejoin="round"/>
<polyline points="1144.7,438.4 1141.3,439.5 1137.7,440.5 1134.1,441.3 1130.3,442 1126.5,442.6 1122.7,443 1118.9,443.2 1115,443.4 1111.3,443.3 1107.6,443.2 1104.1,442.9 1100.7,442.4 1097.5,441.9 1094.4,441.2" fill="none" stroke="#3563b8" stroke-width="2.85" stroke-linecap="round" stroke-linejoin="round"/>
<ellipse cx="1100.7" cy="442.9" rx="3.6" ry="2.6" fill="#f6faff"/>
<polyline points="1168.1,452 1167,453.9 1165.6,455.7 1163.8,457.4 1161.8,459.1 1159.5,460.7 1156.9,462.2 1154.1,463.6 1151,464.9 1147.8,466.1 1144.4,467.1 1140.9,468.1 1137.2,468.9 1133.5,469.5 1129.6,470.1 1125.8,470.5 1122,470.7 1118.2,470.8 1114.4,470.7 1110.7,470.5 1107.2,470.2 1103.8,469.8 1100.5,469.2 1097.5,468.5 1094.7,467.7 1092.1,466.8 1089.7,465.9 1087.7,464.8 1085.9,463.7 1084.5,462.5 1083.3,461.3" fill="none" stroke="#e4f0fd" stroke-width="22.5" stroke-linecap="butt" stroke-linejoin="round"/>
<polyline points="1169.5,446.2 1169.4,448.2 1168.9,450.1 1168.1,452 1167,453.9 1165.6,455.7 1163.8,457.4 1161.8,459.1 1159.5,460.7 1156.9,462.2 1154.1,463.6 1151,464.9 1147.8,466.1 1144.4,467.1 1140.9,468.1 1137.2,468.9 1133.5,469.5 1129.6,470.1 1125.8,470.5 1122,470.7 1118.2,470.8 1114.4,470.7 1110.7,470.5 1107.2,470.2 1103.8,469.8 1100.5,469.2 1097.5,468.5 1094.7,467.7 1092.1,466.8 1089.7,465.9 1087.7,464.8 1085.9,463.7 1084.5,462.5 1083.3,461.3 1082.5,460.1 1082.1,458.8 1081.9,457.5" fill="none" stroke="#1c1f5c" stroke-width="19" stroke-linecap="butt" stroke-linejoin="round"/>
<polyline points="1167,451.4 1165.6,453.2 1163.8,454.9 1161.8,456.6 1159.5,458.2 1156.9,459.7 1154.1,461.1 1151,462.4 1147.8,463.6 1144.4,464.6 1140.9,465.6 1137.2,466.4 1133.5,467 1129.6,467.6 1125.8,468 1122,468.2 1118.2,468.3 1114.4,468.2 1110.7,468 1107.2,467.7 1103.8,467.3 1100.5,466.7 1097.5,466 1094.7,465.2 1092.1,464.3 1089.7,463.4 1087.7,462.3 1085.9,461.2" fill="none" stroke="#24418f" stroke-width="6.460000000000001" stroke-linecap="round" stroke-linejoin="round"/>
<polyline points="1147.8,462.6 1144.4,463.6 1140.9,464.6 1137.2,465.4 1133.5,466 1129.6,466.6 1125.8,467 1122,467.2 1118.2,467.3 1114.4,467.2 1110.7,467 1107.2,466.7 1103.8,466.3 1100.5,465.7 1097.5,465" fill="none" stroke="#3563b8" stroke-width="2.85" stroke-linecap="round" stroke-linejoin="round"/>
<ellipse cx="1103.8" cy="466.8" rx="3.6" ry="2.6" fill="#f6faff"/>
<ellipse cx="1071" cy="241" rx="11" ry="7" fill="#e88f70" transform="rotate(-20 1071 241)"/>
<polyline points="1832,513.5 1829,512.3 1825.8,511.2 1822.4,510.2 1818.8,509.4 1815.1,508.7 1811.2,508.2 1807.3,507.8 1803.4,507.7 1799.4,507.7 1795.5,507.8 1791.6,508.2 1787.7,508.7 1784,509.4 1780.4,510.2 1776.9,511.2 1773.6,512.3 1770.6,513.6 1767.8,515 1765.2,516.5 1762.9,518.1 1760.9,519.8 1759.2,521.5 1757.8,523.4 1756.7,525.3 1756,527.2 1755.6,529.2 1755.6,531.1" fill="none" stroke="#e4f0fd" stroke-width="22.5" stroke-linecap="butt" stroke-linejoin="round"/>
<polyline points="1832,513.5 1829,512.3 1825.8,511.2 1822.4,510.2 1818.8,509.4 1815.1,508.7 1811.2,508.2 1807.3,507.8 1803.4,507.7 1799.4,507.7 1795.5,507.8 1791.6,508.2 1787.7,508.7 1784,509.4 1780.4,510.2 1776.9,511.2 1773.6,512.3 1770.6,513.6 1767.8,515 1765.2,516.5 1762.9,518.1 1760.9,519.8 1759.2,521.5 1757.8,523.4 1756.7,525.3 1756,527.2 1755.6,529.2 1755.6,531.1" fill="none" stroke="#1c1f5c" stroke-width="19" stroke-linecap="butt" stroke-linejoin="round"/>
<polyline points="1832,514.5 1829,513.3 1825.8,512.2 1822.4,511.2 1818.8,510.4 1815.1,509.7 1811.2,509.2 1807.3,508.8 1803.4,508.7 1799.4,508.7 1795.5,508.8 1791.6,509.2 1787.7,509.7 1784,510.4 1780.4,511.2 1776.9,512.2 1773.6,513.3 1770.6,514.6 1767.8,516 1765.2,517.5 1762.9,519.1 1760.9,520.8 1759.2,522.5 1757.8,524.4 1756.7,526.3 1756,528.2 1755.6,530.2 1755.6,532.1" fill="none" stroke="#2d5cc0" stroke-width="9.5" stroke-linecap="butt" stroke-linejoin="round"/>
<polyline points="1847.7,541.4 1847.8,540 1847.5,538.7 1847,537.3 1846,536 1844.8,534.7 1843.2,533.5 1841.3,532.4 1839.1,531.3 1836.7,530.4 1834,529.6 1831,528.9 1827.8,528.3 1824.5,527.9 1821,527.6 1817.3,527.5 1813.6,527.5 1809.7,527.7 1805.8,528.1 1801.9,528.7 1798.1,529.4 1794.2,530.2 1790.4,531.3 1786.8,532.5 1783.2,533.8 1779.8,535.4 1776.6,537 1773.6,538.8 1770.9,540.7 1768.4,542.7 1766.1,544.8 1764.2,547.1 1762.5,549.4 1761.2,551.7 1760.2,554.1 1759.6,556.6 1759.2,559.1 1759.3,561.5" fill="none" stroke="#e4f0fd" stroke-width="22.5" stroke-linecap="butt" stroke-linejoin="round"/>
<polyline points="1847.7,541.4 1847.8,540 1847.5,538.7 1847,537.3 1846,536 1844.8,534.7 1843.2,533.5 1841.3,532.4 1839.1,531.3 1836.7,530.4 1834,529.6 1831,528.9 1827.8,528.3 1824.5,527.9 1821,527.6 1817.3,527.5 1813.6,527.5 1809.7,527.7 1805.8,528.1 1801.9,528.7 1798.1,529.4 1794.2,530.2 1790.4,531.3 1786.8,532.5 1783.2,533.8 1779.8,535.4 1776.6,537 1773.6,538.8 1770.9,540.7 1768.4,542.7 1766.1,544.8 1764.2,547.1 1762.5,549.4 1761.2,551.7 1760.2,554.1 1759.6,556.6 1759.2,559.1 1759.3,561.5" fill="none" stroke="#1c1f5c" stroke-width="19" stroke-linecap="butt" stroke-linejoin="round"/>
<polyline points="1847.7,542.4 1847.8,541 1847.5,539.7 1847,538.3 1846,537 1844.8,535.7 1843.2,534.5 1841.3,533.4 1839.1,532.3 1836.7,531.4 1834,530.6 1831,529.9 1827.8,529.3 1824.5,528.9 1821,528.6 1817.3,528.5 1813.6,528.5 1809.7,528.7 1805.8,529.1 1801.9,529.7 1798.1,530.4 1794.2,531.2 1790.4,532.3 1786.8,533.5 1783.2,534.8 1779.8,536.4 1776.6,538 1773.6,539.8 1770.9,541.7 1768.4,543.7 1766.1,545.8 1764.2,548.1 1762.5,550.4 1761.2,552.7 1760.2,555.1 1759.6,557.6 1759.2,560.1 1759.3,562.5" fill="none" stroke="#2d5cc0" stroke-width="9.5" stroke-linecap="butt" stroke-linejoin="round"/>
<polyline points="1852.5,581 1852.6,579.6 1852.4,578.2 1851.8,576.9 1850.9,575.6 1849.6,574.3 1848,573.1 1846.1,572 1843.9,571 1841.5,570 1838.8,569.2 1835.8,568.5 1832.6,568 1829.3,567.5 1825.8,567.3 1822.1,567.1 1818.4,567.2 1814.5,567.4 1810.6,567.7 1806.7,568.3 1802.8,568.9 1799,569.8 1795.2,570.8 1791.5,572 1788,573.3 1784.6,574.8 1781.4,576.4 1778.4,578.1 1775.6,580 1773.1,582 1770.9,584.1 1768.9,586.2 1767.3,588.5 1766,590.8 1765,593.1 1764.3,595.5 1764,597.9 1764,600.4" fill="none" stroke="#e4f0fd" stroke-width="22.5" stroke-linecap="butt" stroke-linejoin="round"/>
<polyline points="1852.5,581 1852.6,579.6 1852.4,578.2 1851.8,576.9 1850.9,575.6 1849.6,574.3 1848,573.1 1846.1,572 1843.9,571 1841.5,570 1838.8,569.2 1835.8,568.5 1832.6,568 1829.3,567.5 1825.8,567.3 1822.1,567.1 1818.4,567.2 1814.5,567.4 1810.6,567.7 1806.7,568.3 1802.8,568.9 1799,569.8 1795.2,570.8 1791.5,572 1788,573.3 1784.6,574.8 1781.4,576.4 1778.4,578.1 1775.6,580 1773.1,582 1770.9,584.1 1768.9,586.2 1767.3,588.5 1766,590.8 1765,593.1 1764.3,595.5 1764,597.9 1764,600.4" fill="none" stroke="#1c1f5c" stroke-width="19" stroke-linecap="butt" stroke-linejoin="round"/>
<polyline points="1852.5,582 1852.6,580.6 1852.4,579.2 1851.8,577.9 1850.9,576.6 1849.6,575.3 1848,574.1 1846.1,573 1843.9,572 1841.5,571 1838.8,570.2 1835.8,569.5 1832.6,569 1829.3,568.5 1825.8,568.3 1822.1,568.1 1818.4,568.2 1814.5,568.4 1810.6,568.7 1806.7,569.3 1802.8,569.9 1799,570.8 1795.2,571.8 1791.5,573 1788,574.3 1784.6,575.8 1781.4,577.4 1778.4,579.1 1775.6,581 1773.1,583 1770.9,585.1 1768.9,587.2 1767.3,589.5 1766,591.8 1765,594.1 1764.3,596.5 1764,598.9 1764,601.4" fill="none" stroke="#2d5cc0" stroke-width="9.5" stroke-linecap="butt" stroke-linejoin="round"/>
<polyline points="1857.1,618.7 1857.2,617.3 1857,616 1856.4,614.6 1855.4,613.3 1854.2,612.1 1852.6,610.9 1850.7,609.7 1848.5,608.7 1846,607.8 1843.3,606.9 1840.4,606.2 1837.2,605.7 1833.8,605.2 1830.3,604.9 1826.6,604.8 1822.9,604.8 1819,604.9 1815.2,605.3 1811.2,605.7 1807.3,606.4 1803.5,607.2 1799.7,608.2 1796,609.3 1792.5,610.5 1789.1,611.9 1785.9,613.5 1782.9,615.2 1780.1,617 1777.6,618.9 1775.3,620.9 1773.4,622.9 1771.7,625.1 1770.4,627.3 1769.4,629.6 1768.7,631.9 1768.4,634.2 1768.4,636.6" fill="none" stroke="#e4f0fd" stroke-width="22.5" stroke-linecap="butt" stroke-linejoin="round"/>
<polyline points="1857.1,618.7 1857.2,617.3 1857,616 1856.4,614.6 1855.4,613.3 1854.2,612.1 1852.6,610.9 1850.7,609.7 1848.5,608.7 1846,607.8 1843.3,606.9 1840.4,606.2 1837.2,605.7 1833.8,605.2 1830.3,604.9 1826.6,604.8 1822.9,604.8 1819,604.9 1815.2,605.3 1811.2,605.7 1807.3,606.4 1803.5,607.2 1799.7,608.2 1796,609.3 1792.5,610.5 1789.1,611.9 1785.9,613.5 1782.9,615.2 1780.1,617 1777.6,618.9 1775.3,620.9 1773.4,622.9 1771.7,625.1 1770.4,627.3 1769.4,629.6 1768.7,631.9 1768.4,634.2 1768.4,636.6" fill="none" stroke="#1c1f5c" stroke-width="19" stroke-linecap="butt" stroke-linejoin="round"/>
<polyline points="1857.1,619.7 1857.2,618.3 1857,617 1856.4,615.6 1855.4,614.3 1854.2,613.1 1852.6,611.9 1850.7,610.7 1848.5,609.7 1846,608.8 1843.3,607.9 1840.4,607.2 1837.2,606.7 1833.8,606.2 1830.3,605.9 1826.6,605.8 1822.9,605.8 1819,605.9 1815.2,606.3 1811.2,606.7 1807.3,607.4 1803.5,608.2 1799.7,609.2 1796,610.3 1792.5,611.5 1789.1,612.9 1785.9,614.5 1782.9,616.2 1780.1,618 1777.6,619.9 1775.3,621.9 1773.4,623.9 1771.7,626.1 1770.4,628.3 1769.4,630.6 1768.7,632.9 1768.4,635.2 1768.4,637.6" fill="none" stroke="#2d5cc0" stroke-width="9.5" stroke-linecap="butt" stroke-linejoin="round"/>
<polyline points="1861.5,654.3 1861.6,653 1861.3,651.7 1860.7,650.4 1859.8,649.2 1858.5,648 1856.9,646.8 1855,645.8 1852.9,644.8 1850.4,643.9 1847.7,643.2 1844.7,642.5 1841.5,642 1838.2,641.6 1834.7,641.3 1831,641.2 1827.2,641.2 1823.4,641.4 1819.5,641.8 1815.6,642.3 1811.7,642.9 1807.9,643.7 1804.1,644.7 1800.4,645.8 1796.8,647 1793.4,648.4 1790.2,649.9 1787.2,651.6 1784.5,653.3 1781.9,655.2 1779.7,657.1 1777.7,659.2 1776.1,661.3 1774.8,663.4 1773.8,665.7 1773.1,667.9 1772.8,670.2 1772.8,672.4" fill="none" stroke="#e4f0fd" stroke-width="22.5" stroke-linecap="butt" stroke-linejoin="round"/>
<polyline points="1861.5,654.3 1861.6,653 1861.3,651.7 1860.7,650.4 1859.8,649.2 1858.5,648 1856.9,646.8 1855,645.8 1852.9,644.8 1850.4,643.9 1847.7,643.2 1844.7,642.5 1841.5,642 1838.2,641.6 1834.7,641.3 1831,641.2 1827.2,641.2 1823.4,641.4 1819.5,641.8 1815.6,642.3 1811.7,642.9 1807.9,643.7 1804.1,644.7 1800.4,645.8 1796.8,647 1793.4,648.4 1790.2,649.9 1787.2,651.6 1784.5,653.3 1781.9,655.2 1779.7,657.1 1777.7,659.2 1776.1,661.3 1774.8,663.4 1773.8,665.7 1773.1,667.9 1772.8,670.2 1772.8,672.4" fill="none" stroke="#1c1f5c" stroke-width="19" stroke-linecap="butt" stroke-linejoin="round"/>
<polyline points="1861.5,655.3 1861.6,654 1861.3,652.7 1860.7,651.4 1859.8,650.2 1858.5,649 1856.9,647.8 1855,646.8 1852.9,645.8 1850.4,644.9 1847.7,644.2 1844.7,643.5 1841.5,643 1838.2,642.6 1834.7,642.3 1831,642.2 1827.2,642.2 1823.4,642.4 1819.5,642.8 1815.6,643.3 1811.7,643.9 1807.9,644.7 1804.1,645.7 1800.4,646.8 1796.8,648 1793.4,649.4 1790.2,650.9 1787.2,652.6 1784.5,654.3 1781.9,656.2 1779.7,658.1 1777.7,660.2 1776.1,662.3 1774.8,664.4 1773.8,666.7 1773.1,668.9 1772.8,671.2 1772.8,673.4" fill="none" stroke="#2d5cc0" stroke-width="9.5" stroke-linecap="butt" stroke-linejoin="round"/>
<polyline points="1865.7,689.3 1865.8,688 1865.6,686.7 1865,685.5 1864,684.3 1862.8,683.1 1861.2,682 1859.3,681 1857.1,680 1854.6,679.1 1851.9,678.4 1848.9,677.7 1845.7,677.2 1842.4,676.8 1838.8,676.5 1835.2,676.3 1831.4,676.3 1827.6,676.5 1823.7,676.8 1819.7,677.2 1815.8,677.8 1812,678.6 1808.2,679.4 1804.5,680.5 1801,681.6 1797.6,682.9 1794.3,684.3 1791.3,685.9 1788.5,687.5 1786,689.2 1783.8,691.1 1781.8,693 1780.2,694.9 1778.8,697 1777.8,699 1777.1,701.1 1776.8,703.2 1776.8,705.4" fill="none" stroke="#e4f0fd" stroke-width="22.5" stroke-linecap="butt" stroke-linejoin="round"/>
<polyline points="1865.7,689.3 1865.8,688 1865.6,686.7 1865,685.5 1864,684.3 1862.8,683.1 1861.2,682 1859.3,681 1857.1,680 1854.6,679.1 1851.9,678.4 1848.9,677.7 1845.7,677.2 1842.4,676.8 1838.8,676.5 1835.2,676.3 1831.4,676.3 1827.6,676.5 1823.7,676.8 1819.7,677.2 1815.8,677.8 1812,678.6 1808.2,679.4 1804.5,680.5 1801,681.6 1797.6,682.9 1794.3,684.3 1791.3,685.9 1788.5,687.5 1786,689.2 1783.8,691.1 1781.8,693 1780.2,694.9 1778.8,697 1777.8,699 1777.1,701.1 1776.8,703.2 1776.8,705.4" fill="none" stroke="#1c1f5c" stroke-width="19" stroke-linecap="butt" stroke-linejoin="round"/>
<polyline points="1865.7,690.3 1865.8,689 1865.6,687.7 1865,686.5 1864,685.3 1862.8,684.1 1861.2,683 1859.3,682 1857.1,681 1854.6,680.1 1851.9,679.4 1848.9,678.7 1845.7,678.2 1842.4,677.8 1838.8,677.5 1835.2,677.3 1831.4,677.3 1827.6,677.5 1823.7,677.8 1819.7,678.2 1815.8,678.8 1812,679.6 1808.2,680.4 1804.5,681.5 1801,682.6 1797.6,683.9 1794.3,685.3 1791.3,686.9 1788.5,688.5 1786,690.2 1783.8,692.1 1781.8,694 1780.2,695.9 1778.8,698 1777.8,700 1777.1,702.1 1776.8,704.2 1776.8,706.4" fill="none" stroke="#2d5cc0" stroke-width="9.5" stroke-linecap="butt" stroke-linejoin="round"/>
<polyline points="1869.8,722.8 1869.9,721.7 1869.7,720.6 1869.1,719.5 1868.2,718.5 1866.9,717.5 1865.3,716.6 1863.4,715.7 1861.3,714.9 1858.8,714.2 1856.1,713.6 1853.1,713.1 1850,712.7 1846.6,712.4 1843.1,712.2 1839.4,712.2 1835.7,712.3 1831.8,712.6 1828,713 1824.1,713.5 1820.2,714.2 1816.3,715 1812.5,716 1808.9,717 1805.3,718.3 1801.9,719.6 1798.7,721 1795.7,722.6 1793,724.3 1790.4,726 1788.2,727.9 1786.3,729.8 1784.6,731.8 1783.3,733.8 1782.3,735.9 1781.6,738 1781.3,740.1 1781.3,742.2" fill="none" stroke="#e4f0fd" stroke-width="22.5" stroke-linecap="butt" stroke-linejoin="round"/>
<polyline points="1869.8,722.8 1869.9,721.7 1869.7,720.6 1869.1,719.5 1868.2,718.5 1866.9,717.5 1865.3,716.6 1863.4,715.7 1861.3,714.9 1858.8,714.2 1856.1,713.6 1853.1,713.1 1850,712.7 1846.6,712.4 1843.1,712.2 1839.4,712.2 1835.7,712.3 1831.8,712.6 1828,713 1824.1,713.5 1820.2,714.2 1816.3,715 1812.5,716 1808.9,717 1805.3,718.3 1801.9,719.6 1798.7,721 1795.7,722.6 1793,724.3 1790.4,726 1788.2,727.9 1786.3,729.8 1784.6,731.8 1783.3,733.8 1782.3,735.9 1781.6,738 1781.3,740.1 1781.3,742.2" fill="none" stroke="#1c1f5c" stroke-width="19" stroke-linecap="butt" stroke-linejoin="round"/>
<polyline points="1869.8,723.8 1869.9,722.7 1869.7,721.6 1869.1,720.5 1868.2,719.5 1866.9,718.5 1865.3,717.6 1863.4,716.7 1861.3,715.9 1858.8,715.2 1856.1,714.6 1853.1,714.1 1850,713.7 1846.6,713.4 1843.1,713.2 1839.4,713.2 1835.7,713.3 1831.8,713.6 1828,714 1824.1,714.5 1820.2,715.2 1816.3,716 1812.5,717 1808.9,718 1805.3,719.3 1801.9,720.6 1798.7,722 1795.7,723.6 1793,725.3 1790.4,727 1788.2,728.9 1786.3,730.8 1784.6,732.8 1783.3,734.8 1782.3,736.9 1781.6,739 1781.3,741.1 1781.3,743.2" fill="none" stroke="#2d5cc0" stroke-width="9.5" stroke-linecap="butt" stroke-linejoin="round"/>
<polyline points="1874.2,758.5 1874.3,757.3 1874,756.1 1873.4,754.9 1872.5,753.8 1871.2,752.7 1869.6,751.6 1867.7,750.6 1865.5,749.7 1863,748.9 1860.2,748.1" fill="none" stroke="#e4f0fd" stroke-width="22.5" stroke-linecap="butt" stroke-linejoin="round"/>
<polyline points="1874.2,758.5 1874.3,757.3 1874,756.1 1873.4,754.9 1872.5,753.8 1871.2,752.7 1869.6,751.6 1867.7,750.6 1865.5,749.7 1863,748.9 1860.2,748.1" fill="none" stroke="#1c1f5c" stroke-width="19" stroke-linecap="butt" stroke-linejoin="round"/>
<polyline points="1874.2,759.5 1874.3,758.3 1874,757.1 1873.4,755.9 1872.5,754.8 1871.2,753.7 1869.6,752.6 1867.7,751.6 1865.5,750.7 1863,749.9 1860.2,749.1" fill="none" stroke="#2d5cc0" stroke-width="9.5" stroke-linecap="butt" stroke-linejoin="round"/>
<polyline points="1756.5,535 1757.5,536.9 1758.9,538.8 1760.5,540.6 1762.5,542.3 1764.7,543.9 1767.2,545.4 1770,546.8 1773,548.1 1776.3,549.2 1779.7,550.2 1783.3,551.1 1787,551.8 1790.8,552.3 1794.7,552.7 1798.7,552.9 1802.7,553.1 1806.7,553.5 1810.7,553.8 1814.6,553.8 1818.4,553.7 1822.1,553.5 1825.6,553.1 1829,552.5 1832.1,551.8 1835,551 1837.6,550.1 1840,549.1 1842.1,547.9 1843.9,546.7 1845.3,545.5 1846.5,544.2" fill="none" stroke="#e4f0fd" stroke-width="22.5" stroke-linecap="butt" stroke-linejoin="round"/>
<polyline points="1755.6,529.2 1755.6,531.1 1755.9,533.1 1756.5,535 1757.5,536.9 1758.9,538.8 1760.5,540.6 1762.5,542.3 1764.7,543.9 1767.2,545.4 1770,546.8 1773,548.1 1776.3,549.2 1779.7,550.2 1783.3,551.1 1787,551.8 1790.8,552.3 1794.7,552.7 1798.7,552.9 1802.7,553.1 1806.7,553.5 1810.7,553.8 1814.6,553.8 1818.4,553.7 1822.1,553.5 1825.6,553.1 1829,552.5 1832.1,551.8 1835,551 1837.6,550.1 1840,549.1 1842.1,547.9 1843.9,546.7 1845.3,545.5 1846.5,544.2 1847.2,542.8 1847.7,541.4 1847.8,540" fill="none" stroke="#1c1f5c" stroke-width="19" stroke-linecap="butt" stroke-linejoin="round"/>
<polyline points="1757.5,534.4 1758.9,536.3 1760.5,538.1 1762.5,539.8 1764.7,541.4 1767.2,542.9 1770,544.3 1773,545.6 1776.3,546.7 1779.7,547.7 1783.3,548.6 1787,549.3 1790.8,549.8 1794.7,550.2 1798.7,550.4 1802.7,550.6 1806.7,551 1810.7,551.3 1814.6,551.3 1818.4,551.2 1822.1,551 1825.6,550.6 1829,550 1832.1,549.3 1835,548.5 1837.6,547.6 1840,546.6 1842.1,545.4 1843.9,544.2" fill="none" stroke="#24418f" stroke-width="6.460000000000001" stroke-linecap="round" stroke-linejoin="round"/>
<polyline points="1764.7,540.4 1767.2,541.9 1770,543.3 1773,544.6 1776.3,545.7 1779.7,546.7 1783.3,547.6 1787,548.3 1790.8,548.8 1794.7,549.2 1798.7,549.4 1802.7,549.6 1806.7,550 1810.7,550.3 1814.6,550.3 1818.4,550.2" fill="none" stroke="#3563b8" stroke-width="2.85" stroke-linecap="round" stroke-linejoin="round"/>
<ellipse cx="1783.3" cy="548.1" rx="3.6" ry="2.6" fill="#f6faff"/>
<polyline points="1760.4,566.5 1761.4,568.9 1762.8,571.2 1764.6,573.5 1766.6,575.8 1768.9,577.9 1771.5,579.9 1774.3,581.9 1777.4,583.7 1780.7,585.3 1784.2,586.9 1787.9,588.2 1791.6,589.5 1795.5,590.5 1799.5,591.4 1803.5,592.1 1807.6,592.7 1811.6,593.1 1815.6,593.3 1819.5,593.3 1823.3,593.2 1827,593 1830.5,592.6 1833.8,592 1836.9,591.3 1839.8,590.5 1842.5,589.6 1844.8,588.5 1846.9,587.4 1848.7,586.2 1850.2,585 1851.3,583.7" fill="none" stroke="#e4f0fd" stroke-width="22.5" stroke-linecap="butt" stroke-linejoin="round"/>
<polyline points="1759.2,559.1 1759.3,561.5 1759.7,564 1760.4,566.5 1761.4,568.9 1762.8,571.2 1764.6,573.5 1766.6,575.8 1768.9,577.9 1771.5,579.9 1774.3,581.9 1777.4,583.7 1780.7,585.3 1784.2,586.9 1787.9,588.2 1791.6,589.5 1795.5,590.5 1799.5,591.4 1803.5,592.1 1807.6,592.7 1811.6,593.1 1815.6,593.3 1819.5,593.3 1823.3,593.2 1827,593 1830.5,592.6 1833.8,592 1836.9,591.3 1839.8,590.5 1842.5,589.6 1844.8,588.5 1846.9,587.4 1848.7,586.2 1850.2,585 1851.3,583.7 1852.1,582.3 1852.5,581 1852.6,579.6" fill="none" stroke="#1c1f5c" stroke-width="19" stroke-linecap="butt" stroke-linejoin="round"/>
<polyline points="1761.4,566.4 1762.8,568.7 1764.6,571 1766.6,573.3 1768.9,575.4 1771.5,577.4 1774.3,579.4 1777.4,581.2 1780.7,582.8 1784.2,584.4 1787.9,585.7 1791.6,587 1795.5,588 1799.5,588.9 1803.5,589.6 1807.6,590.2 1811.6,590.6 1815.6,590.8 1819.5,590.8 1823.3,590.7 1827,590.5 1830.5,590.1 1833.8,589.5 1836.9,588.8 1839.8,588 1842.5,587.1 1844.8,586 1846.9,584.9 1848.7,583.7" fill="none" stroke="#24418f" stroke-width="6.460000000000001" stroke-linecap="round" stroke-linejoin="round"/>
<polyline points="1768.9,574.4 1771.5,576.4 1774.3,578.4 1777.4,580.2 1780.7,581.8 1784.2,583.4 1787.9,584.7 1791.6,586 1795.5,587 1799.5,587.9 1803.5,588.6 1807.6,589.2 1811.6,589.6 1815.6,589.8 1819.5,589.8 1823.3,589.7" fill="none" stroke="#3563b8" stroke-width="2.85" stroke-linecap="round" stroke-linejoin="round"/>
<ellipse cx="1787.9" cy="585.2" rx="3.6" ry="2.6" fill="#f6faff"/>
<polyline points="1765.1,605.2 1766.2,607.5 1767.6,609.8 1769.3,612.1 1771.3,614.2 1773.6,616.3 1776.2,618.3 1779,620.2 1782.1,621.9 1785.4,623.5 1788.9,625 1792.6,626.4 1796.3,627.6 1800.2,628.6 1804.2,629.5 1808.2,630.2 1812.3,630.7 1816.3,631 1820.2,631.2 1824.1,631.2 1827.9,631.1 1831.6,630.8 1835.1,630.4 1838.5,629.8 1841.6,629.1 1844.5,628.3 1847.1,627.3 1849.5,626.3 1851.6,625.2 1853.3,624 1854.8,622.7 1855.9,621.4" fill="none" stroke="#e4f0fd" stroke-width="22.5" stroke-linecap="butt" stroke-linejoin="round"/>
<polyline points="1764,597.9 1764,600.4 1764.4,602.8 1765.1,605.2 1766.2,607.5 1767.6,609.8 1769.3,612.1 1771.3,614.2 1773.6,616.3 1776.2,618.3 1779,620.2 1782.1,621.9 1785.4,623.5 1788.9,625 1792.6,626.4 1796.3,627.6 1800.2,628.6 1804.2,629.5 1808.2,630.2 1812.3,630.7 1816.3,631 1820.2,631.2 1824.1,631.2 1827.9,631.1 1831.6,630.8 1835.1,630.4 1838.5,629.8 1841.6,629.1 1844.5,628.3 1847.1,627.3 1849.5,626.3 1851.6,625.2 1853.3,624 1854.8,622.7 1855.9,621.4 1856.7,620.1 1857.1,618.7 1857.2,617.3" fill="none" stroke="#1c1f5c" stroke-width="19" stroke-linecap="butt" stroke-linejoin="round"/>
<polyline points="1766.2,605 1767.6,607.3 1769.3,609.6 1771.3,611.7 1773.6,613.8 1776.2,615.8 1779,617.7 1782.1,619.4 1785.4,621 1788.9,622.5 1792.6,623.9 1796.3,625.1 1800.2,626.1 1804.2,627 1808.2,627.7 1812.3,628.2 1816.3,628.5 1820.2,628.7 1824.1,628.7 1827.9,628.6 1831.6,628.3 1835.1,627.9 1838.5,627.3 1841.6,626.6 1844.5,625.8 1847.1,624.8 1849.5,623.8 1851.6,622.7 1853.3,621.5" fill="none" stroke="#24418f" stroke-width="6.460000000000001" stroke-linecap="round" stroke-linejoin="round"/>
<polyline points="1773.6,612.8 1776.2,614.8 1779,616.7 1782.1,618.4 1785.4,620 1788.9,621.5 1792.6,622.9 1796.3,624.1 1800.2,625.1 1804.2,626 1808.2,626.7 1812.3,627.2 1816.3,627.5 1820.2,627.7 1824.1,627.7 1827.9,627.6" fill="none" stroke="#3563b8" stroke-width="2.85" stroke-linecap="round" stroke-linejoin="round"/>
<ellipse cx="1792.6" cy="623.4" rx="3.6" ry="2.6" fill="#f6faff"/>
<polyline points="1769.5,641.2 1770.6,643.5 1772,645.7 1773.7,647.9 1775.7,650 1778,652 1780.6,653.9 1783.4,655.7 1786.5,657.4 1789.8,658.9 1793.3,660.3 1796.9,661.6 1800.7,662.7 1804.6,663.7 1808.5,664.5 1812.6,665.2 1816.6,665.7 1820.6,666 1824.6,666.2 1828.5,666.2 1832.3,666.1 1836,665.8 1839.5,665.4 1842.8,664.9 1845.9,664.2 1848.8,663.4 1851.5,662.5 1853.8,661.6 1855.9,660.5 1857.7,659.3 1859.1,658.1 1860.2,656.9" fill="none" stroke="#e4f0fd" stroke-width="22.5" stroke-linecap="butt" stroke-linejoin="round"/>
<polyline points="1768.4,634.2 1768.4,636.6 1768.8,638.9 1769.5,641.2 1770.6,643.5 1772,645.7 1773.7,647.9 1775.7,650 1778,652 1780.6,653.9 1783.4,655.7 1786.5,657.4 1789.8,658.9 1793.3,660.3 1796.9,661.6 1800.7,662.7 1804.6,663.7 1808.5,664.5 1812.6,665.2 1816.6,665.7 1820.6,666 1824.6,666.2 1828.5,666.2 1832.3,666.1 1836,665.8 1839.5,665.4 1842.8,664.9 1845.9,664.2 1848.8,663.4 1851.5,662.5 1853.8,661.6 1855.9,660.5 1857.7,659.3 1859.1,658.1 1860.2,656.9 1861,655.6 1861.5,654.3 1861.6,653" fill="none" stroke="#1c1f5c" stroke-width="19" stroke-linecap="butt" stroke-linejoin="round"/>
<polyline points="1770.6,641 1772,643.2 1773.7,645.4 1775.7,647.5 1778,649.5 1780.6,651.4 1783.4,653.2 1786.5,654.9 1789.8,656.4 1793.3,657.8 1796.9,659.1 1800.7,660.2 1804.6,661.2 1808.5,662 1812.6,662.7 1816.6,663.2 1820.6,663.5 1824.6,663.7 1828.5,663.7 1832.3,663.6 1836,663.3 1839.5,662.9 1842.8,662.4 1845.9,661.7 1848.8,660.9 1851.5,660 1853.8,659.1 1855.9,658 1857.7,656.8" fill="none" stroke="#24418f" stroke-width="6.460000000000001" stroke-linecap="round" stroke-linejoin="round"/>
<polyline points="1778,648.5 1780.6,650.4 1783.4,652.2 1786.5,653.9 1789.8,655.4 1793.3,656.8 1796.9,658.1 1800.7,659.2 1804.6,660.2 1808.5,661 1812.6,661.7 1816.6,662.2 1820.6,662.5 1824.6,662.7 1828.5,662.7 1832.3,662.6" fill="none" stroke="#3563b8" stroke-width="2.85" stroke-linecap="round" stroke-linejoin="round"/>
<ellipse cx="1796.9" cy="658.6" rx="3.6" ry="2.6" fill="#f6faff"/>
<polyline points="1773.9,676.9 1775,679.1 1776.3,681.3 1778.1,683.4 1780.1,685.4 1782.4,687.3 1785,689.2 1787.8,690.9 1790.9,692.5 1794.2,694 1797.7,695.4 1801.3,696.7 1805.1,697.8 1809,698.7 1812.9,699.5 1816.9,700.2 1821,700.7 1825,700.9 1829,701.1 1832.9,701.1 1836.6,700.9 1840.3,700.7 1843.8,700.2 1847.1,699.7 1850.3,699 1853.1,698.2 1855.8,697.3 1858.1,696.4 1860.2,695.3 1862,694.2 1863.4,693 1864.5,691.8" fill="none" stroke="#e4f0fd" stroke-width="22.5" stroke-linecap="butt" stroke-linejoin="round"/>
<polyline points="1772.8,670.2 1772.8,672.4 1773.2,674.7 1773.9,676.9 1775,679.1 1776.3,681.3 1778.1,683.4 1780.1,685.4 1782.4,687.3 1785,689.2 1787.8,690.9 1790.9,692.5 1794.2,694 1797.7,695.4 1801.3,696.7 1805.1,697.8 1809,698.7 1812.9,699.5 1816.9,700.2 1821,700.7 1825,700.9 1829,701.1 1832.9,701.1 1836.6,700.9 1840.3,700.7 1843.8,700.2 1847.1,699.7 1850.3,699 1853.1,698.2 1855.8,697.3 1858.1,696.4 1860.2,695.3 1862,694.2 1863.4,693 1864.5,691.8 1865.3,690.6 1865.7,689.3 1865.8,688" fill="none" stroke="#1c1f5c" stroke-width="19" stroke-linecap="butt" stroke-linejoin="round"/>
<polyline points="1775,676.6 1776.3,678.8 1778.1,680.9 1780.1,682.9 1782.4,684.8 1785,686.7 1787.8,688.4 1790.9,690 1794.2,691.5 1797.7,692.9 1801.3,694.2 1805.1,695.3 1809,696.2 1812.9,697 1816.9,697.7 1821,698.2 1825,698.4 1829,698.6 1832.9,698.6 1836.6,698.4 1840.3,698.2 1843.8,697.7 1847.1,697.2 1850.3,696.5 1853.1,695.7 1855.8,694.8 1858.1,693.9 1860.2,692.8 1862,691.7" fill="none" stroke="#24418f" stroke-width="6.460000000000001" stroke-linecap="round" stroke-linejoin="round"/>
<polyline points="1782.4,683.8 1785,685.7 1787.8,687.4 1790.9,689 1794.2,690.5 1797.7,691.9 1801.3,693.2 1805.1,694.3 1809,695.2 1812.9,696 1816.9,696.7 1821,697.2 1825,697.4 1829,697.6 1832.9,697.6 1836.6,697.4" fill="none" stroke="#3563b8" stroke-width="2.85" stroke-linecap="round" stroke-linejoin="round"/>
<ellipse cx="1801.3" cy="693.7" rx="3.6" ry="2.6" fill="#f6faff"/>
<polyline points="1777.9,709.6 1779,711.6 1780.3,713.7 1782,715.6 1784.1,717.5 1786.4,719.3 1788.9,721 1791.8,722.7 1794.8,724.2 1798.1,725.6 1801.6,726.9 1805.2,728 1809,729 1812.9,729.9 1816.8,730.6 1820.9,731.2 1824.9,731.7 1828.9,732.1 1832.9,732.3 1836.8,732.4 1840.6,732.4 1844.3,732.2 1847.8,732 1851.1,731.6 1854.3,731 1857.2,730.4 1859.8,729.7 1862.2,728.9 1864.3,728 1866,727 1867.5,726 1868.6,725" fill="none" stroke="#e4f0fd" stroke-width="22.5" stroke-linecap="butt" stroke-linejoin="round"/>
<polyline points="1776.8,703.2 1776.8,705.4 1777.2,707.5 1777.9,709.6 1779,711.6 1780.3,713.7 1782,715.6 1784.1,717.5 1786.4,719.3 1788.9,721 1791.8,722.7 1794.8,724.2 1798.1,725.6 1801.6,726.9 1805.2,728 1809,729 1812.9,729.9 1816.8,730.6 1820.9,731.2 1824.9,731.7 1828.9,732.1 1832.9,732.3 1836.8,732.4 1840.6,732.4 1844.3,732.2 1847.8,732 1851.1,731.6 1854.3,731 1857.2,730.4 1859.8,729.7 1862.2,728.9 1864.3,728 1866,727 1867.5,726 1868.6,725 1869.4,723.9 1869.8,722.8 1869.9,721.7" fill="none" stroke="#1c1f5c" stroke-width="19" stroke-linecap="butt" stroke-linejoin="round"/>
<polyline points="1779,709.1 1780.3,711.2 1782,713.1 1784.1,715 1786.4,716.8 1788.9,718.5 1791.8,720.2 1794.8,721.7 1798.1,723.1 1801.6,724.4 1805.2,725.5 1809,726.5 1812.9,727.4 1816.8,728.1 1820.9,728.7 1824.9,729.2 1828.9,729.6 1832.9,729.8 1836.8,729.9 1840.6,729.9 1844.3,729.7 1847.8,729.5 1851.1,729.1 1854.3,728.5 1857.2,727.9 1859.8,727.2 1862.2,726.4 1864.3,725.5 1866,724.5" fill="none" stroke="#24418f" stroke-width="6.460000000000001" stroke-linecap="round" stroke-linejoin="round"/>
<polyline points="1786.4,715.8 1788.9,717.5 1791.8,719.2 1794.8,720.7 1798.1,722.1 1801.6,723.4 1805.2,724.5 1809,725.5 1812.9,726.4 1816.8,727.1 1820.9,727.7 1824.9,728.2 1828.9,728.6 1832.9,728.8 1836.8,728.9 1840.6,728.9" fill="none" stroke="#3563b8" stroke-width="2.85" stroke-linecap="round" stroke-linejoin="round"/>
<ellipse cx="1805.2" cy="725" rx="3.6" ry="2.6" fill="#f6faff"/>
<polyline points="1782.4,746.5 1783.5,748.5 1784.9,750.6 1786.6,752.5 1788.6,754.4 1790.9,756.3 1793.5,758 1796.4,759.7 1799.5,761.2 1802.8,762.6 1806.2,764 1809.9,765.2 1813.7,766.2 1817.6,767.2 1821.5,768 1825.5,768.7 1829.6,769.2 1833.6,769.4 1837.5,769.5 1841.4,769.5 1845.2,769.4 1848.9,769.1 1852.4,768.7 1855.7,768.2 1858.8,767.5 1861.7,766.8 1864.3,766 1866.6,765.1 1868.7,764.1 1870.5,763.1 1871.9,762 1873,760.8" fill="none" stroke="#e4f0fd" stroke-width="22.5" stroke-linecap="butt" stroke-linejoin="round"/>
<polyline points="1781.3,740.1 1781.3,742.2 1781.7,744.4 1782.4,746.5 1783.5,748.5 1784.9,750.6 1786.6,752.5 1788.6,754.4 1790.9,756.3 1793.5,758 1796.4,759.7 1799.5,761.2 1802.8,762.6 1806.2,764 1809.9,765.2 1813.7,766.2 1817.6,767.2 1821.5,768 1825.5,768.7 1829.6,769.2 1833.6,769.4 1837.5,769.5 1841.4,769.5 1845.2,769.4 1848.9,769.1 1852.4,768.7 1855.7,768.2 1858.8,767.5 1861.7,766.8 1864.3,766 1866.6,765.1 1868.7,764.1 1870.5,763.1 1871.9,762 1873,760.8 1873.8,759.7 1874.2,758.5 1874.3,757.3" fill="none" stroke="#1c1f5c" stroke-width="19" stroke-linecap="butt" stroke-linejoin="round"/>
<polyline points="1783.5,746 1784.9,748.1 1786.6,750 1788.6,751.9 1790.9,753.8 1793.5,755.5 1796.4,757.2 1799.5,758.7 1802.8,760.1 1806.2,761.5 1809.9,762.7 1813.7,763.7 1817.6,764.7 1821.5,765.5 1825.5,766.2 1829.6,766.7 1833.6,766.9 1837.5,767 1841.4,767 1845.2,766.9 1848.9,766.6 1852.4,766.2 1855.7,765.7 1858.8,765 1861.7,764.3 1864.3,763.5 1866.6,762.6 1868.7,761.6 1870.5,760.6" fill="none" stroke="#24418f" stroke-width="6.460000000000001" stroke-linecap="round" stroke-linejoin="round"/>
<polyline points="1790.9,752.8 1793.5,754.5 1796.4,756.2 1799.5,757.7 1802.8,759.1 1806.2,760.5 1809.9,761.7 1813.7,762.7 1817.6,763.7 1821.5,764.5 1825.5,765.2 1829.6,765.7 1833.6,765.9 1837.5,766 1841.4,766 1845.2,765.9" fill="none" stroke="#3563b8" stroke-width="2.85" stroke-linecap="round" stroke-linejoin="round"/>
<ellipse cx="1809.9" cy="762.2" rx="3.6" ry="2.6" fill="#f6faff"/>
<ellipse cx="1832" cy="497" rx="11" ry="7" fill="#e88f70" transform="rotate(-10 1832 497)"/>
<path d="M1007,354 L914,495 Q906,508 918,520 L940,540 Q950,552 953,566 Q958,578 972,584 L1430,807 Q1445,815 1465,813 L1500,810 Q1512,810 1525,816 L1565,833 Q1582,838 1594,824 L1735,700" fill="none" stroke="#1c1f5c" stroke-width="11" stroke-linecap="round" stroke-linejoin="round"/>
<path d="M1007,354 L914,495 Q906,508 918,520 L940,540 Q950,552 953,566 Q958,578 972,584 L1430,807 Q1445,815 1465,813 L1500,810 Q1512,810 1525,816 L1565,833 Q1582,838 1594,824 L1735,700" fill="none" stroke="#384c9e" stroke-width="3" stroke-linecap="round" stroke-linejoin="round" transform="translate(-1,-1.5)"/>
<path d="M1009,350 Q1020,372 1017,395 Q1018,415 1030,440 L1038,462" fill="none" stroke="#1c1f5c" stroke-width="10" stroke-linecap="round" stroke-linejoin="round"/>
<path d="M1009,350 Q1020,372 1017,395 Q1018,415 1030,440 L1038,462" fill="none" stroke="#384c9e" stroke-width="2" stroke-linecap="round" stroke-linejoin="round"/>
<path d="M1740,672 Q1748,700 1752,710 Q1760,750 1782,795 L1790,825" fill="none" stroke="#1c1f5c" stroke-width="10" stroke-linecap="round" stroke-linejoin="round"/>
<path d="M1740,672 Q1748,700 1752,710 Q1760,750 1782,795 L1790,825" fill="none" stroke="#384c9e" stroke-width="2" stroke-linecap="round" stroke-linejoin="round"/>
<ellipse cx="1795" cy="832" rx="10" ry="12" fill="#1c1f5c"/>
<polygon points="1722,683 1760,683 1756,697 1726,697" fill="#1c1f5c"/>
<path d="M1130,553 L1200,573 L1400,640 Q1412,644 1440,641 L1555,630 Q1578,628 1592,640 L1630,672" fill="none" stroke="#1c1f5c" stroke-width="11" stroke-linecap="round" stroke-linejoin="round"/>
<path d="M1130,553 L1200,573 L1400,640 Q1412,644 1440,641 L1555,630 Q1578,628 1592,640 L1630,672" fill="none" stroke="#384c9e" stroke-width="3" stroke-linecap="round" stroke-linejoin="round" transform="translate(0,-1.5)"/>
<ellipse cx="1008" cy="347" rx="9" ry="7.2" fill="#c9a838" stroke="#8a6a1c" stroke-width="1.5"/><ellipse cx="1007" cy="346" rx="4.5" ry="3.6" fill="#f0dc7a" stroke="#8a6a1c" stroke-width="1"/>
<ellipse cx="1040" cy="463" rx="10" ry="8" fill="#c9a838" stroke="#8a6a1c" stroke-width="1.5"/><ellipse cx="1039" cy="462" rx="5" ry="4" fill="#f0dc7a" stroke="#8a6a1c" stroke-width="1"/>
<ellipse cx="1120" cy="547" rx="9" ry="7.2" fill="#c9a838" stroke="#8a6a1c" stroke-width="1.5"/><ellipse cx="1119" cy="546" rx="4.5" ry="3.6" fill="#f0dc7a" stroke="#8a6a1c" stroke-width="1"/>
<ellipse cx="1316" cy="436" rx="11" ry="8.8" fill="#c9a838" stroke="#8a6a1c" stroke-width="1.5"/><ellipse cx="1315" cy="435" rx="5.5" ry="4.4" fill="#f0dc7a" stroke="#8a6a1c" stroke-width="1"/>
<ellipse cx="1186" cy="451" rx="5" ry="4" fill="#c9a838" stroke="#8a6a1c" stroke-width="1.5"/><ellipse cx="1185" cy="450" rx="2.5" ry="2" fill="#f0dc7a" stroke="#8a6a1c" stroke-width="1"/>
<ellipse cx="1660" cy="728" rx="7" ry="5.6" fill="#c9a838" stroke="#8a6a1c" stroke-width="1.5"/><ellipse cx="1659" cy="727" rx="3.5" ry="2.8" fill="#f0dc7a" stroke="#8a6a1c" stroke-width="1"/>
<ellipse cx="1887" cy="723" rx="5" ry="4" fill="#c9a838" stroke="#8a6a1c" stroke-width="1.5"/><ellipse cx="1886" cy="722" rx="2.5" ry="2" fill="#f0dc7a" stroke="#8a6a1c" stroke-width="1"/>
<ellipse cx="1771" cy="810" rx="7" ry="5.6" fill="#c9a838" stroke="#8a6a1c" stroke-width="1.5"/><ellipse cx="1770" cy="809" rx="3.5" ry="2.8" fill="#f0dc7a" stroke="#8a6a1c" stroke-width="1"/>
<ellipse cx="1818" cy="822" rx="9" ry="7.2" fill="#c9a838" stroke="#8a6a1c" stroke-width="1.5"/><ellipse cx="1817" cy="821" rx="4.5" ry="3.6" fill="#f0dc7a" stroke="#8a6a1c" stroke-width="1"/>
<polygon points="1731,650 1752,650 1756,680 1727,680" fill="#c9a838" stroke="#8a6a1c" stroke-width="1.5" stroke-linejoin="round"/>
<polygon points="1735,640 1748,640 1750,652 1733,652" fill="#f0dc7a" stroke="#8a6a1c" stroke-width="1" stroke-linejoin="round"/>
<polyline points="876,183 976,414" fill="none" stroke="#1a1a1a" stroke-width="1.3" stroke-linecap="butt" stroke-linejoin="round"/>
<polyline points="935,179 1025,392" fill="none" stroke="#1a1a1a" stroke-width="1.3" stroke-linecap="butt" stroke-linejoin="round"/>
<polyline points="999,178 1057,276" fill="none" stroke="#1a1a1a" stroke-width="1.3" stroke-linecap="butt" stroke-linejoin="round"/>
<polyline points="1077,177 1164,232" fill="none" stroke="#1a1a1a" stroke-width="1.3" stroke-linecap="butt" stroke-linejoin="round"/>
<polyline points="1559,211 1494,275" fill="none" stroke="#1a1a1a" stroke-width="1.3" stroke-linecap="butt" stroke-linejoin="round"/>
<polyline points="1632,198 1592,320" fill="none" stroke="#1a1a1a" stroke-width="1.3" stroke-linecap="butt" stroke-linejoin="round"/>
<polyline points="1691,192 1612,598" fill="none" stroke="#1a1a1a" stroke-width="1.3" stroke-linecap="butt" stroke-linejoin="round"/>
<polyline points="1728,875 1667,687" fill="none" stroke="#1a1a1a" stroke-width="1.3" stroke-linecap="butt" stroke-linejoin="round"/>
<polyline points="1632,897 1451,645" fill="none" stroke="#1a1a1a" stroke-width="1.3" stroke-linecap="butt" stroke-linejoin="round"/>
<text x="876" y="180" font-size="25" font-family='"Liberation Serif",serif' fill="#222" text-anchor="middle">1</text>
<text x="936" y="176" font-size="25" font-family='"Liberation Serif",serif' fill="#222" text-anchor="middle">2</text>
<text x="995" y="175" font-size="25" font-family='"Liberation Serif",serif' fill="#222" text-anchor="middle">3</text>
<text x="1070" y="180" font-size="25" font-family='"Liberation Serif",serif' fill="#222" text-anchor="middle">4</text>
<text x="1562" y="208" font-size="25" font-family='"Liberation Serif",serif' fill="#222" text-anchor="middle">5</text>
<text x="1635" y="196" font-size="25" font-family='"Liberation Serif",serif' fill="#222" text-anchor="middle">6</text>
<text x="1692" y="190" font-size="25" font-family='"Liberation Serif",serif' fill="#222" text-anchor="middle">7</text>
<text x="1730" y="894" font-size="25" font-family='"Liberation Serif",serif' fill="#222" text-anchor="middle">8</text>
<text x="1637" y="915" font-size="25" font-family='"Liberation Serif",serif' fill="#222" text-anchor="middle">9</text>
<polygon points="0,72.2 740.7,71.3 740.7,76.5 0,77.3" fill="#0a0a0a"/>
<polygon points="1457.8,69.5 2202.7,65.4 2202.7,70.8 1457.8,74.9" fill="#0a0a0a"/>
<polygon points="2197.2,65.4 2202.7,65.4 2206.9,1496.5 2201.3,1496.5" fill="#0a0a0a"/>
<polygon points="550,1497 1300,1494.6 2100,1491.8 2207,1491.3 2207,1497" fill="#0a0a0a"/>
<polygon points="0,1240 1,1320 2.2,1497 0,1497" fill="#0a0a0a"/>
<text x="981" y="69" font-size="51" font-family='"Noto Serif CJK SC","Liberation Serif",serif' font-weight="normal" fill="#111" text-anchor="start" textLength="227.0" lengthAdjust="spacing">悬挂系统</text>
<text transform="translate(883,114) scale(1.07,1)" font-size="38.5" font-family='"Liberation Serif","Noto Serif CJK SC",serif' font-weight="normal" fill="#111" text-anchor="start" textLength="395.3" lengthAdjust="spacing">SUSPENSION SYSTEM</text>
<text x="110.5" y="166" font-size="21" font-family='"Noto Sans CJK SC","Liberation Sans",sans-serif' font-weight="bold" fill="#111" text-anchor="start" textLength="64.0" lengthAdjust="spacing">前悬挂</text>
<text x="197.8" y="165.5" font-size="16.6" font-family='"Liberation Sans","Noto Sans CJK SC",sans-serif' font-weight="bold" fill="#111" text-anchor="start" textLength="167.5" lengthAdjust="spacing" word-spacing="4.6">FRONT SUSPENSION</text>
<text x="110.5" y="391.5" font-size="21" font-family='"Noto Sans CJK SC","Liberation Sans",sans-serif' font-weight="bold" fill="#111" text-anchor="start" textLength="64.0" lengthAdjust="spacing">后悬挂</text>
<text x="197.8" y="391.0" font-size="16.6" font-family='"Liberation Sans","Noto Sans CJK SC",sans-serif' font-weight="bold" fill="#111" text-anchor="start" textLength="155.5" lengthAdjust="spacing" word-spacing="4.6">REAR SUSPENSION</text>
<text x="92" y="188.3" font-size="17.5" font-family='"Liberation Serif","Noto Serif CJK SC",serif' font-weight="normal" fill="#3a3a3a" text-anchor="start" textLength="11.5" lengthAdjust="spacing">1.</text>
<text x="111.5" y="187.8" font-size="17.5" font-family='"Noto Serif CJK SC","Liberation Serif",serif' font-weight="normal" fill="#3a3a3a" text-anchor="start" textLength="73.2" lengthAdjust="spacing">前稳定杆</text>
<text x="280.2" y="188.3" font-size="17.6" font-family='"Liberation Serif","Noto Serif CJK SC",serif' font-weight="normal" fill="#3a3a3a" text-anchor="start" textLength="163.7" lengthAdjust="spacing" word-spacing="4.4">FRONT STABILIZER</text>
<text x="92" y="210.2" font-size="17.5" font-family='"Liberation Serif","Noto Serif CJK SC",serif' font-weight="normal" fill="#3a3a3a" text-anchor="start" textLength="11.5" lengthAdjust="spacing">2.</text>
<text x="111.5" y="209.7" font-size="17.5" font-family='"Noto Serif CJK SC","Liberation Serif",serif' font-weight="normal" fill="#3a3a3a" text-anchor="start" textLength="147.4" lengthAdjust="spacing">前稳定杆连杆总成</text>
<text x="280.2" y="210.2" font-size="17.6" font-family='"Liberation Serif","Noto Serif CJK SC",serif' font-weight="normal" fill="#3a3a3a" text-anchor="start" textLength="297.9" lengthAdjust="spacing" word-spacing="4.4">LINK ASSY. OF FRONT STABILIZER</text>
<text x="92" y="232.3" font-size="17.5" font-family='"Liberation Serif","Noto Serif CJK SC",serif' font-weight="normal" fill="#3a3a3a" text-anchor="start" textLength="11.5" lengthAdjust="spacing">3.</text>
<text x="111.5" y="231.8" font-size="17.5" font-family='"Noto Serif CJK SC","Liberation Serif",serif' font-weight="normal" fill="#3a3a3a" text-anchor="start" textLength="91.8" lengthAdjust="spacing">前螺旋弹簧</text>
<text x="280.2" y="232.3" font-size="17.6" font-family='"Liberation Serif","Noto Serif CJK SC",serif' font-weight="normal" fill="#3a3a3a" text-anchor="start" textLength="172.6" lengthAdjust="spacing" word-spacing="4.4">FRONT COIL SPRING</text>
<text x="92" y="254.7" font-size="17.5" font-family='"Liberation Serif","Noto Serif CJK SC",serif' font-weight="normal" fill="#3a3a3a" text-anchor="start" textLength="11.5" lengthAdjust="spacing">4.</text>
<text x="111.5" y="254.2" font-size="17.5" font-family='"Noto Serif CJK SC","Liberation Serif",serif' font-weight="normal" fill="#3a3a3a" text-anchor="start" textLength="73.2" lengthAdjust="spacing">前减振器</text>
<text x="280.2" y="254.7" font-size="17.6" font-family='"Liberation Serif","Noto Serif CJK SC",serif' font-weight="normal" fill="#3a3a3a" text-anchor="start" textLength="215.5" lengthAdjust="spacing" word-spacing="4.4">FRONT SHOCK ABSORBER</text>
<text x="92" y="276.6" font-size="17.5" font-family='"Liberation Serif","Noto Serif CJK SC",serif' font-weight="normal" fill="#3a3a3a" text-anchor="start" textLength="11.5" lengthAdjust="spacing">5.</text>
<text x="111.5" y="276.1" font-size="17.5" font-family='"Noto Serif CJK SC","Liberation Serif",serif' font-weight="normal" fill="#3a3a3a" text-anchor="start" textLength="110.3" lengthAdjust="spacing">上控制臂总成</text>
<text x="280.2" y="276.6" font-size="17.6" font-family='"Liberation Serif","Noto Serif CJK SC",serif' font-weight="normal" fill="#3a3a3a" text-anchor="start" textLength="187.9" lengthAdjust="spacing" word-spacing="4.4">UPPER CONTROL ARM</text>
<text x="92" y="299" font-size="17.5" font-family='"Liberation Serif","Noto Serif CJK SC",serif' font-weight="normal" fill="#3a3a3a" text-anchor="start" textLength="11.5" lengthAdjust="spacing">6.</text>
<text x="111.5" y="298.5" font-size="17.5" font-family='"Noto Serif CJK SC","Liberation Serif",serif' font-weight="normal" fill="#3a3a3a" text-anchor="start" textLength="110.3" lengthAdjust="spacing">下控制臂总成</text>
<text x="280.2" y="299" font-size="17.6" font-family='"Liberation Serif","Noto Serif CJK SC",serif' font-weight="normal" fill="#3a3a3a" text-anchor="start" textLength="194.3" lengthAdjust="spacing" word-spacing="4.4">LOWER CONTROL ARM</text>
<text x="92" y="320.9" font-size="17.5" font-family='"Liberation Serif","Noto Serif CJK SC",serif' font-weight="normal" fill="#3a3a3a" text-anchor="start" textLength="11.5" lengthAdjust="spacing">7.</text>
<text x="111.5" y="320.4" font-size="17.5" font-family='"Noto Serif CJK SC","Liberation Serif",serif' font-weight="normal" fill="#3a3a3a" text-anchor="start" textLength="36.1" lengthAdjust="spacing">前桥</text>
<text x="280.2" y="320.9" font-size="17.6" font-family='"Liberation Serif","Noto Serif CJK SC",serif' font-weight="normal" fill="#3a3a3a" text-anchor="start" textLength="110.7" lengthAdjust="spacing" word-spacing="4.4">FRONT AXLE</text>
<text x="92" y="343" font-size="17.5" font-family='"Liberation Serif","Noto Serif CJK SC",serif' font-weight="normal" fill="#3a3a3a" text-anchor="start" textLength="11.5" lengthAdjust="spacing">8.</text>
<text x="111.5" y="342.5" font-size="17.5" font-family='"Noto Serif CJK SC","Liberation Serif",serif' font-weight="normal" fill="#3a3a3a" text-anchor="start" textLength="91.8" lengthAdjust="spacing">推力杆支架</text>
<text x="280.2" y="343" font-size="17.6" font-family='"Liberation Serif","Noto Serif CJK SC",serif' font-weight="normal" fill="#3a3a3a" text-anchor="start" textLength="184.9" lengthAdjust="spacing" word-spacing="4.4">TRACK BAR BRACKET</text>
<text x="92" y="365.4" font-size="17.5" font-family='"Liberation Serif","Noto Serif CJK SC",serif' font-weight="normal" fill="#3a3a3a" text-anchor="start" textLength="11.5" lengthAdjust="spacing">9.</text>
<text x="111.5" y="364.9" font-size="17.5" font-family='"Noto Serif CJK SC","Liberation Serif",serif' font-weight="normal" fill="#3a3a3a" text-anchor="start" textLength="54.7" lengthAdjust="spacing">推力杆</text>
<text x="280.2" y="365.4" font-size="17.6" font-family='"Liberation Serif","Noto Serif CJK SC",serif' font-weight="normal" fill="#3a3a3a" text-anchor="start" textLength="98.4" lengthAdjust="spacing" word-spacing="4.4">TRACK BAR</text>
<text x="92" y="410.2" font-size="17.5" font-family='"Liberation Serif","Noto Serif CJK SC",serif' font-weight="normal" fill="#3a3a3a" text-anchor="start" textLength="11.5" lengthAdjust="spacing">1.</text>
<text x="111.5" y="409.7" font-size="17.5" font-family='"Noto Serif CJK SC","Liberation Serif",serif' font-weight="normal" fill="#3a3a3a" text-anchor="start" textLength="73.2" lengthAdjust="spacing">钢板弹簧</text>
<text x="279.8" y="410.2" font-size="17.6" font-family='"Liberation Serif","Noto Serif CJK SC",serif' font-weight="normal" fill="#3a3a3a" text-anchor="start" textLength="181.7" lengthAdjust="spacing" word-spacing="4.4">STEEL PLATE SPRING</text>
<text x="92" y="432.6" font-size="17.5" font-family='"Liberation Serif","Noto Serif CJK SC",serif' font-weight="normal" fill="#3a3a3a" text-anchor="start" textLength="11.5" lengthAdjust="spacing">2.</text>
<text x="111.5" y="432.1" font-size="17.5" font-family='"Noto Serif CJK SC","Liberation Serif",serif' font-weight="normal" fill="#3a3a3a" text-anchor="start" textLength="73.2" lengthAdjust="spacing">弹簧支架</text>
<text x="279.8" y="432.6" font-size="17.6" font-family='"Liberation Serif","Noto Serif CJK SC",serif' font-weight="normal" fill="#3a3a3a" text-anchor="start" textLength="148.8" lengthAdjust="spacing" word-spacing="4.4">SPRING BRACKET</text>
<text x="92" y="455" font-size="17.5" font-family='"Liberation Serif","Noto Serif CJK SC",serif' font-weight="normal" fill="#3a3a3a" text-anchor="start" textLength="11.5" lengthAdjust="spacing">3.</text>
<text x="111.5" y="454.5" font-size="17.5" font-family='"Noto Serif CJK SC","Liberation Serif",serif' font-weight="normal" fill="#3a3a3a" text-anchor="start" textLength="73.2" lengthAdjust="spacing">弹簧托板</text>
<text x="279.8" y="455" font-size="17.6" font-family='"Liberation Serif","Noto Serif CJK SC",serif' font-weight="normal" fill="#3a3a3a" text-anchor="start" textLength="137.5" lengthAdjust="spacing" word-spacing="4.4">SPRING PLANET</text>
<text x="92" y="477.3" font-size="17.5" font-family='"Liberation Serif","Noto Serif CJK SC",serif' font-weight="normal" fill="#3a3a3a" text-anchor="start" textLength="11.5" lengthAdjust="spacing">4.</text>
<text x="111.5" y="476.8" font-size="17.5" font-family='"Noto Serif CJK SC","Liberation Serif",serif' font-weight="normal" fill="#3a3a3a" text-anchor="start" textLength="54.7" lengthAdjust="spacing">稳定杆</text>
<text x="279.8" y="477.3" font-size="17.6" font-family='"Liberation Serif","Noto Serif CJK SC",serif' font-weight="normal" fill="#3a3a3a" text-anchor="start" textLength="152.3" lengthAdjust="spacing" word-spacing="4.4">REAR STABILIZER</text>
<text x="92" y="499.7" font-size="17.5" font-family='"Liberation Serif","Noto Serif CJK SC",serif' font-weight="normal" fill="#3a3a3a" text-anchor="start" textLength="11.5" lengthAdjust="spacing">5.</text>
<text x="111.5" y="499.2" font-size="17.5" font-family='"Noto Serif CJK SC","Liberation Serif",serif' font-weight="normal" fill="#3a3a3a" text-anchor="start" textLength="54.7" lengthAdjust="spacing">减振器</text>
<text x="279.8" y="499.7" font-size="17.6" font-family='"Liberation Serif","Noto Serif CJK SC",serif' font-weight="normal" fill="#3a3a3a" text-anchor="start" textLength="151.8" lengthAdjust="spacing" word-spacing="4.4">SHOCK ABSORBER</text>
<text x="92" y="521.6" font-size="17.5" font-family='"Liberation Serif","Noto Serif CJK SC",serif' font-weight="normal" fill="#3a3a3a" text-anchor="start" textLength="11.5" lengthAdjust="spacing">6.</text>
<text x="111.5" y="521.1" font-size="17.5" font-family='"Noto Serif CJK SC","Liberation Serif",serif' font-weight="normal" fill="#3a3a3a" text-anchor="start" textLength="36.1" lengthAdjust="spacing">后桥</text>
<text x="279.8" y="521.6" font-size="17.6" font-family='"Liberation Serif","Noto Serif CJK SC",serif' font-weight="normal" fill="#3a3a3a" text-anchor="start" textLength="100.5" lengthAdjust="spacing" word-spacing="4.4">REAR AXLE</text>
<text x="92" y="544" font-size="17.5" font-family='"Liberation Serif","Noto Serif CJK SC",serif' font-weight="normal" fill="#3a3a3a" text-anchor="start" textLength="11.5" lengthAdjust="spacing">7.</text>
<text x="111.5" y="543.5" font-size="17.5" font-family='"Noto Serif CJK SC","Liberation Serif",serif' font-weight="normal" fill="#3a3a3a" text-anchor="start" textLength="36.1" lengthAdjust="spacing">吊耳</text>
<text x="279.8" y="544" font-size="17.6" font-family='"Liberation Serif","Noto Serif CJK SC",serif' font-weight="normal" fill="#3a3a3a" text-anchor="start" textLength="72.9" lengthAdjust="spacing" word-spacing="4.4">HANGER</text>
<text x="92" y="566.4" font-size="17.5" font-family='"Liberation Serif","Noto Serif CJK SC",serif' font-weight="normal" fill="#3a3a3a" text-anchor="start" textLength="11.5" lengthAdjust="spacing">8.</text>
<text x="111.5" y="565.9" font-size="17.5" font-family='"Noto Serif CJK SC","Liberation Serif",serif' font-weight="normal" fill="#3a3a3a" text-anchor="start" textLength="73.2" lengthAdjust="spacing">骑马螺栓</text>
<text x="279.8" y="566.4" font-size="17.6" font-family='"Liberation Serif","Noto Serif CJK SC",serif' font-weight="normal" fill="#3a3a3a" text-anchor="start" textLength="76.2" lengthAdjust="spacing" word-spacing="4.4">U – BOLT</text>
<text x="92" y="588.3" font-size="17.5" font-family='"Liberation Serif","Noto Serif CJK SC",serif' font-weight="normal" fill="#3a3a3a" text-anchor="start" textLength="11.5" lengthAdjust="spacing">9.</text>
<text x="111.5" y="587.8" font-size="17.5" font-family='"Noto Serif CJK SC","Liberation Serif",serif' font-weight="normal" fill="#3a3a3a" text-anchor="start" textLength="36.1" lengthAdjust="spacing">垫片</text>
<text x="279.8" y="588.3" font-size="17.6" font-family='"Liberation Serif","Noto Serif CJK SC",serif' font-weight="normal" fill="#3a3a3a" text-anchor="start" textLength="73.4" lengthAdjust="spacing" word-spacing="4.4">WASHER</text>
<text x="331" y="728.5" font-size="21" font-family='"Noto Sans CJK SC","Liberation Sans",sans-serif' font-weight="500" fill="#111" text-anchor="start" textLength="64.0" lengthAdjust="spacing">后悬挂</text>
<text x="419" y="727" font-size="16.6" font-family='"Liberation Sans","Noto Sans CJK SC",sans-serif' font-weight="bold" fill="#111" text-anchor="start" textLength="155.5" lengthAdjust="spacing" word-spacing="4.6">REAR SUSPENSION</text>
<text x="1508" y="1047.5" font-size="21" font-family='"Noto Sans CJK SC","Liberation Sans",sans-serif' font-weight="500" fill="#111" text-anchor="start" textLength="64.0" lengthAdjust="spacing">前悬挂</text>
<text x="1595" y="1046" font-size="16.6" font-family='"Liberation Sans","Noto Sans CJK SC",sans-serif' font-weight="bold" fill="#111" text-anchor="start" textLength="166.0" lengthAdjust="spacing" word-spacing="4.6">FRONT SUSPENSION</text>
</svg>
</body></html>
